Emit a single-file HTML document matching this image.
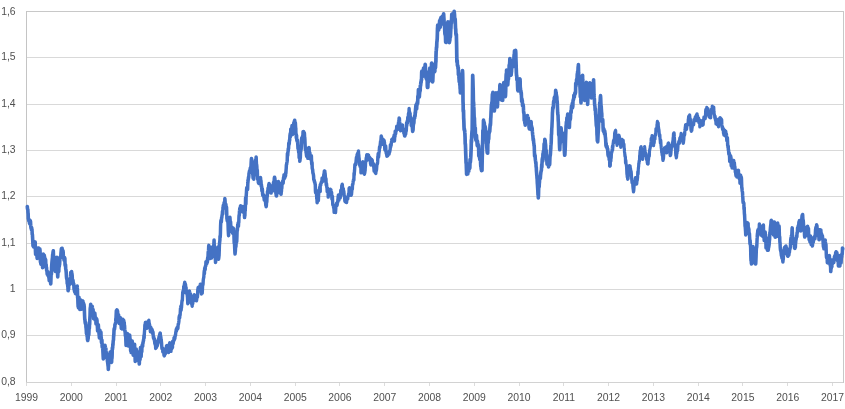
<!DOCTYPE html><html><head><meta charset="utf-8"><title>Chart</title><style>html,body{margin:0;padding:0;background:#fff;overflow:hidden}body{width:845px;height:409px;position:relative}</style></head><body><svg width="845" height="409" viewBox="0 0 845 409" style="position:absolute;left:0;top:0">
<defs><filter id="nf" x="0" y="0" width="100%" height="100%" filterUnits="userSpaceOnUse"><feOffset dx="0" dy="0"/></filter></defs>
<rect width="845" height="409" fill="#fff"/>
<g shape-rendering="crispEdges">
<rect x="27" y="57" width="816" height="1" fill="#d9d9d9"/>
<rect x="27" y="104" width="816" height="1" fill="#d9d9d9"/>
<rect x="27" y="150" width="816" height="1" fill="#d9d9d9"/>
<rect x="27" y="196" width="816" height="1" fill="#d9d9d9"/>
<rect x="27" y="243" width="816" height="1" fill="#d9d9d9"/>
<rect x="27" y="289" width="816" height="1" fill="#d9d9d9"/>
<rect x="27" y="335" width="816" height="1" fill="#d9d9d9"/>
<rect x="26" y="382" width="818" height="1" fill="#d2d2d2"/>
<rect x="26" y="11" width="818" height="1" fill="#c8c8c8"/>
<rect x="843" y="11" width="1" height="372" fill="#c8c8c8"/>
<rect x="26" y="11" width="1" height="371" fill="#c4c4c4"/>
<rect x="26" y="383" width="1" height="3" fill="#dcdcdc"/>
<rect x="71" y="383" width="1" height="3" fill="#dcdcdc"/>
<rect x="116" y="383" width="1" height="3" fill="#dcdcdc"/>
<rect x="160" y="383" width="1" height="3" fill="#dcdcdc"/>
<rect x="205" y="383" width="1" height="3" fill="#dcdcdc"/>
<rect x="250" y="383" width="1" height="3" fill="#dcdcdc"/>
<rect x="295" y="383" width="1" height="3" fill="#dcdcdc"/>
<rect x="339" y="383" width="1" height="3" fill="#dcdcdc"/>
<rect x="384" y="383" width="1" height="3" fill="#dcdcdc"/>
<rect x="429" y="383" width="1" height="3" fill="#dcdcdc"/>
<rect x="474" y="383" width="1" height="3" fill="#dcdcdc"/>
<rect x="519" y="383" width="1" height="3" fill="#dcdcdc"/>
<rect x="563" y="383" width="1" height="3" fill="#dcdcdc"/>
<rect x="608" y="383" width="1" height="3" fill="#dcdcdc"/>
<rect x="653" y="383" width="1" height="3" fill="#dcdcdc"/>
<rect x="698" y="383" width="1" height="3" fill="#dcdcdc"/>
<rect x="742" y="383" width="1" height="3" fill="#dcdcdc"/>
<rect x="787" y="383" width="1" height="3" fill="#dcdcdc"/>
<rect x="832" y="383" width="1" height="3" fill="#dcdcdc"/>
</g>
<g font-family="Liberation Sans, sans-serif" font-size="10.4" fill="#505050" filter="url(#nf)">
<text x="15.6" y="14.80" text-anchor="end">1,6</text>
<text x="15.6" y="59.85" text-anchor="end">1,5</text>
<text x="15.6" y="106.85" text-anchor="end">1,4</text>
<text x="15.6" y="152.85" text-anchor="end">1,3</text>
<text x="15.6" y="198.85" text-anchor="end">1,2</text>
<text x="15.6" y="245.85" text-anchor="end">1,1</text>
<text x="15.6" y="291.85" text-anchor="end">1</text>
<text x="15.6" y="337.85" text-anchor="end">0,9</text>
<text x="15.6" y="384.85" text-anchor="end">0,8</text>
<text x="26.5" y="400.8" text-anchor="middle">1999</text>
<text x="71.3" y="400.8" text-anchor="middle">2000</text>
<text x="116.1" y="400.8" text-anchor="middle">2001</text>
<text x="160.8" y="400.8" text-anchor="middle">2002</text>
<text x="205.6" y="400.8" text-anchor="middle">2003</text>
<text x="250.4" y="400.8" text-anchor="middle">2004</text>
<text x="295.2" y="400.8" text-anchor="middle">2005</text>
<text x="339.9" y="400.8" text-anchor="middle">2006</text>
<text x="384.7" y="400.8" text-anchor="middle">2007</text>
<text x="429.5" y="400.8" text-anchor="middle">2008</text>
<text x="474.3" y="400.8" text-anchor="middle">2009</text>
<text x="519.1" y="400.8" text-anchor="middle">2010</text>
<text x="563.8" y="400.8" text-anchor="middle">2011</text>
<text x="608.6" y="400.8" text-anchor="middle">2012</text>
<text x="653.4" y="400.8" text-anchor="middle">2013</text>
<text x="698.2" y="400.8" text-anchor="middle">2014</text>
<text x="742.9" y="400.8" text-anchor="middle">2015</text>
<text x="787.7" y="400.8" text-anchor="middle">2016</text>
<text x="832.5" y="400.8" text-anchor="middle">2017</text>
</g>
<g fill="none" stroke="#4472c4" stroke-linejoin="round" stroke-linecap="round">
<polyline stroke-width="3.60" points="27.30,206.5 27.47,208.6 27.64,209.4 27.81,209.4 27.98,212.1 28.00,213.0 28.15,213.5 28.32,218.9 28.49,218.9 28.50,219.0 28.66,219.8 28.83,220.9 29.00,221.3 29.17,219.6 29.34,220.9 29.51,223.4 29.68,221.0 29.85,222.2 30.00,224.0 30.02,222.6 30.19,220.6 30.36,221.9 30.53,221.5 30.70,225.2 30.87,227.2 31.04,228.0 31.10,228.6 31.21,226.7 31.38,228.1 31.55,230.0 31.72,227.9 31.89,229.9 32.06,230.9 32.20,234.0 32.23,234.6 32.40,234.5 32.57,237.3 32.60,238.0 32.74,240.3 32.91,243.8 33.00,246.0 33.08,245.9 33.25,243.9 33.42,244.3 33.59,247.0 33.76,242.6 33.93,245.1 34.10,244.7 34.27,242.6 34.44,247.0 34.61,246.2 34.78,242.1 34.95,242.3 35.12,242.6 35.20,242.0 35.29,246.4 35.46,251.1 35.50,252.0 35.63,254.3 35.80,253.1 35.97,253.8 36.14,253.0 36.31,254.0 36.48,251.8 36.65,252.3 36.82,253.7 36.99,256.7 37.16,258.4 37.33,255.8 37.50,257.0 37.50,257.0 37.67,249.9 37.84,248.0 38.00,248.0 38.01,248.3 38.18,249.6 38.35,248.8 38.52,248.2 38.69,248.1 38.86,252.0 39.03,249.8 39.20,249.1 39.37,250.2 39.54,249.9 39.71,249.8 39.88,249.1 40.00,250.5 40.05,250.7 40.22,257.3 40.39,261.4 40.50,262.0 40.56,262.7 40.73,262.4 40.90,264.2 41.07,263.6 41.24,264.5 41.41,261.2 41.58,263.0 41.75,259.6 41.92,258.0 42.09,260.0 42.26,260.3 42.43,262.7 42.60,267.7 42.77,264.7 42.94,264.0 43.11,264.8 43.20,265.0 43.28,256.3 43.30,254.0 43.45,255.3 43.62,256.5 43.79,254.7 43.96,255.7 44.13,256.8 44.30,255.3 44.47,257.8 44.64,257.0 44.81,260.7 44.98,261.1 45.15,261.5 45.32,261.3 45.40,262.0 45.49,259.3 45.66,260.0 45.83,265.5 45.90,267.4 46.00,267.2 46.17,264.6 46.34,268.4 46.51,267.3 46.68,270.5 46.85,270.9 47.00,271.0 47.02,271.3 47.19,274.1 47.36,273.7 47.53,273.0 47.70,273.1 47.87,271.7 48.04,275.6 48.21,274.6 48.38,275.4 48.50,276.0 48.55,275.5 48.72,274.4 48.89,278.0 49.06,278.1 49.23,280.6 49.40,280.3 49.57,278.9 49.74,279.3 49.91,279.3 50.08,280.9 50.25,281.3 50.42,282.0 50.59,281.9 50.70,283.9 50.76,283.6 50.93,279.6 51.10,274.8 51.27,273.8 51.44,274.2 51.61,266.9 51.78,264.7 51.95,262.1 52.00,262.0 52.12,260.4 52.29,259.0 52.46,257.8 52.63,254.7 52.80,255.0 52.97,252.6 53.10,252.2 53.14,251.5 53.31,250.8 53.48,256.1 53.65,256.0 53.82,258.4 53.99,259.5 54.16,260.3 54.30,262.0 54.33,262.4 54.50,263.2 54.67,264.3 54.84,265.8 55.01,269.7 55.18,271.0 55.35,271.3 55.50,271.0 55.52,270.1 55.69,269.5 55.86,269.6 56.03,266.7 56.20,265.8 56.37,265.0 56.54,263.6 56.71,261.7 56.88,257.8 56.90,257.4 57.05,260.2 57.22,266.4 57.39,270.6 57.56,274.3 57.60,273.9 57.73,277.0 57.90,273.6 58.07,269.4 58.24,272.4 58.41,269.9 58.58,270.7 58.75,271.6 58.80,271.0 58.92,267.2 59.09,266.9 59.26,266.5 59.43,265.1 59.60,264.4 59.77,261.5 59.94,258.2 60.11,258.8 60.28,257.4 60.45,256.6 60.50,258.0 60.62,256.8 60.79,256.6 60.96,253.5 61.13,251.8 61.30,249.8 61.47,248.6 61.64,249.8 61.81,248.2 61.98,248.8 62.10,248.3 62.15,250.1 62.32,249.2 62.49,251.9 62.66,252.2 62.83,253.0 63.00,250.7 63.17,252.3 63.34,256.1 63.51,256.8 63.68,258.0 63.85,258.6 64.00,259.8 64.02,260.1 64.19,258.2 64.36,258.8 64.53,257.5 64.70,258.0 64.87,258.6 65.04,264.8 65.21,265.8 65.38,264.4 65.55,265.0 65.72,268.9 65.89,269.4 65.90,269.3 66.06,270.9 66.23,272.6 66.40,276.0 66.57,277.9 66.74,278.8 66.91,278.3 67.00,280.0 67.08,280.0 67.25,283.7 67.42,281.9 67.59,284.1 67.76,286.3 67.93,286.7 68.00,289.0 68.10,290.7 68.27,289.0 68.44,289.6 68.61,289.0 68.78,281.8 68.95,284.3 69.12,284.5 69.29,284.7 69.46,283.0 69.60,284.0 69.63,283.5 69.80,283.9 69.97,283.0 70.14,281.4 70.31,283.1 70.48,279.2 70.65,276.9 70.82,272.3 70.99,276.5 71.16,276.5 71.33,275.5 71.50,273.5 71.60,271.5 71.67,272.6 71.84,273.3 72.01,274.1 72.18,275.6 72.35,280.1 72.52,280.9 72.69,280.5 72.86,280.1 73.03,280.7 73.20,283.0 73.20,283.0 73.37,284.9 73.54,285.0 73.71,283.7 73.88,285.8 74.05,289.3 74.22,289.0 74.39,289.8 74.56,291.0 74.60,291.5 74.73,289.4 74.90,290.0 75.07,289.4 75.24,293.2 75.41,292.0 75.58,293.6 75.60,293.5 75.75,293.4 75.92,291.4 76.09,291.2 76.26,290.4 76.43,287.5 76.60,288.7 76.77,291.9 76.94,288.4 77.11,286.6 77.20,286.0 77.28,287.9 77.45,290.1 77.60,297.0 77.62,297.6 77.79,298.1 77.96,303.4 78.13,306.7 78.20,305.0 78.30,305.8 78.47,307.8 78.64,303.5 78.81,299.6 78.98,297.2 79.00,298.0 79.15,302.1 79.32,305.9 79.49,304.7 79.66,305.9 79.80,309.5 79.83,309.1 80.00,307.1 80.17,306.1 80.34,305.1 80.51,302.5 80.68,301.0 80.80,300.0 80.85,300.5 81.02,303.3 81.19,308.8 81.36,309.2 81.53,308.8 81.60,308.5 81.70,307.6 81.87,303.0 82.04,300.8 82.21,304.4 82.38,305.2 82.55,303.4 82.60,303.0 82.72,301.3 82.89,301.2 83.06,304.5 83.20,305.0 83.23,306.1 83.40,305.2 83.57,303.2 83.74,304.6 83.91,305.4 84.08,304.8 84.20,307.0 84.25,306.4 84.42,311.2 84.59,315.8 84.76,319.6 84.93,319.3 85.10,322.1 85.20,322.8 85.27,323.1 85.44,323.8 85.61,323.1 85.78,322.7 85.95,327.3 86.12,328.3 86.29,330.3 86.46,333.6 86.63,329.9 86.80,330.7 86.97,333.8 87.14,336.3 87.31,336.6 87.48,339.6 87.65,340.1 87.80,340.5 87.82,339.6 87.99,339.1 88.16,338.5 88.33,332.5 88.50,335.7 88.67,334.9 88.84,334.4 89.00,330.4 89.01,330.2 89.18,326.1 89.35,328.5 89.52,324.0 89.69,324.1 89.86,318.0 90.03,315.3 90.20,309.0 90.37,307.4 90.54,307.3 90.70,304.3 90.71,304.6 90.88,306.7 91.05,305.6 91.22,306.5 91.39,307.9 91.56,310.2 91.73,311.6 91.80,313.0 91.90,311.2 92.07,308.6 92.24,306.4 92.41,308.0 92.58,309.3 92.60,309.0 92.75,309.2 92.92,309.5 93.09,309.5 93.26,314.2 93.43,314.3 93.60,318.6 93.77,317.7 93.80,318.0 93.94,317.0 94.11,314.4 94.28,315.4 94.45,313.8 94.60,313.0 94.62,313.3 94.79,313.1 94.96,314.7 95.13,316.7 95.30,320.3 95.47,318.8 95.64,320.6 95.81,319.7 95.98,323.7 96.00,324.0 96.15,318.4 96.32,319.1 96.49,321.5 96.60,320.0 96.66,318.9 96.83,319.6 97.00,320.3 97.17,325.0 97.34,326.0 97.51,328.4 97.60,331.0 97.68,329.6 97.85,329.8 98.02,326.8 98.19,324.8 98.36,324.8 98.40,327.0 98.53,328.2 98.70,330.4 98.87,331.9 99.04,333.8 99.21,335.4 99.38,338.0 99.40,337.0 99.55,333.9 99.72,332.1 99.89,330.2 100.06,333.6 100.23,334.7 100.40,333.0 100.40,333.0 100.57,332.6 100.74,337.4 100.91,332.0 101.08,337.2 101.25,337.3 101.42,342.0 101.59,342.6 101.60,343.0 101.76,340.3 101.93,340.1 102.10,345.8 102.27,347.2 102.40,346.0 102.44,345.8 102.61,344.8 102.78,348.2 102.95,352.2 103.12,355.6 103.29,358.7 103.30,359.0 103.46,356.4 103.63,355.2 103.80,356.9 103.97,357.9 104.14,353.1 104.30,350.0 104.31,349.9 104.48,348.3 104.65,346.7 104.82,347.1 104.99,345.2 105.16,347.3 105.30,347.0 105.33,347.4 105.50,348.5 105.67,348.4 105.84,348.5 106.01,350.9 106.18,352.5 106.35,355.3 106.40,356.0 106.52,354.6 106.69,356.2 106.86,354.7 107.03,356.1 107.20,358.2 107.37,359.0 107.40,361.0 107.54,361.6 107.71,363.1 107.88,364.2 108.05,365.8 108.22,367.1 108.30,369.5 108.39,367.3 108.56,366.0 108.73,362.0 108.90,362.2 109.07,361.3 109.24,359.4 109.40,358.0 109.41,358.1 109.58,353.9 109.75,354.7 109.92,354.3 110.09,353.3 110.20,352.0 110.26,352.1 110.43,352.9 110.60,355.7 110.77,357.4 110.94,358.4 111.11,355.9 111.28,359.6 111.45,362.4 111.60,362.0 111.62,362.3 111.79,357.9 111.96,358.3 112.13,355.4 112.30,347.9 112.47,349.4 112.64,346.9 112.70,348.0 112.81,344.0 112.98,345.1 113.15,341.6 113.32,340.1 113.49,340.1 113.60,336.0 113.66,336.6 113.83,334.7 114.00,330.5 114.17,328.6 114.34,329.5 114.51,329.1 114.68,327.5 114.85,326.7 114.90,325.3 115.02,324.2 115.19,324.2 115.36,323.6 115.53,323.7 115.70,321.9 115.87,318.7 116.04,317.9 116.21,314.0 116.38,310.5 116.55,312.4 116.72,311.5 116.89,310.6 116.90,310.5 117.06,309.9 117.23,310.8 117.40,311.5 117.57,311.2 117.74,315.5 117.80,318.0 117.91,318.7 118.08,318.0 118.25,318.7 118.42,321.0 118.59,314.8 118.76,317.8 118.93,320.7 119.10,322.0 119.20,321.6 119.27,323.5 119.44,323.2 119.61,322.4 119.78,322.7 119.95,319.6 120.12,318.9 120.29,319.9 120.46,319.7 120.50,317.8 120.63,319.5 120.80,321.1 120.97,325.1 121.14,324.8 121.31,328.4 121.48,326.0 121.65,327.3 121.70,327.9 121.82,328.1 121.99,328.9 122.16,324.6 122.33,322.8 122.50,324.2 122.67,322.4 122.84,319.4 123.01,323.1 123.18,323.3 123.35,322.9 123.52,320.9 123.69,320.6 123.70,320.3 123.86,323.3 124.03,322.6 124.20,322.5 124.37,325.3 124.54,325.6 124.71,329.4 124.88,331.0 125.05,330.8 125.20,333.0 125.22,332.9 125.39,335.8 125.56,335.7 125.73,336.5 125.90,341.3 126.07,345.4 126.24,345.0 126.30,343.0 126.41,343.6 126.58,344.8 126.75,341.4 126.92,336.9 127.09,336.4 127.26,335.6 127.30,335.0 127.43,333.6 127.60,333.7 127.77,339.6 127.94,340.8 128.11,344.0 128.20,346.0 128.28,345.9 128.45,343.9 128.62,343.6 128.79,340.0 128.96,338.5 129.13,335.9 129.30,338.2 129.47,336.3 129.60,335.0 129.64,335.0 129.81,336.7 129.98,340.6 130.15,338.9 130.32,340.3 130.49,343.8 130.66,350.9 130.80,350.0 130.83,350.3 131.00,350.4 131.17,352.5 131.34,348.8 131.51,345.8 131.68,347.1 131.85,345.4 132.02,344.0 132.19,341.1 132.20,341.0 132.36,347.3 132.53,349.5 132.70,351.6 132.87,347.9 133.04,352.8 133.20,355.0 133.21,355.1 133.38,355.0 133.55,352.5 133.72,347.5 133.89,348.8 134.06,346.6 134.23,346.0 134.40,346.0 134.40,346.0 134.57,344.2 134.74,350.0 134.91,352.9 135.08,357.2 135.25,361.5 135.42,360.5 135.50,360.0 135.59,357.5 135.76,354.3 135.93,353.4 136.10,353.7 136.27,349.1 136.44,351.0 136.60,351.0 136.61,350.8 136.78,351.5 136.95,352.3 137.12,353.9 137.29,354.4 137.46,355.6 137.60,358.0 137.63,356.7 137.80,359.0 137.97,360.3 138.14,356.8 138.20,353.0 138.31,354.5 138.48,358.9 138.65,359.1 138.82,359.9 138.99,360.6 139.16,362.6 139.30,364.0 139.33,363.3 139.50,358.9 139.67,356.4 139.84,359.8 140.01,355.1 140.18,351.1"/>
<polyline stroke-width="3.40" points="139.84,359.8 140.01,355.1 140.18,351.1 140.35,348.8 140.40,347.5 140.52,348.5 140.69,351.4 140.86,356.1 140.90,356.0 141.03,355.6 141.20,356.7 141.37,353.1 141.54,352.0 141.71,349.6 141.88,351.8 142.05,345.7 142.22,344.9 142.39,344.5 142.50,345.0 142.56,345.2 142.73,346.4 142.90,342.1 143.07,343.4 143.24,341.8 143.41,339.8 143.58,340.9 143.75,338.4 143.92,335.4 144.09,336.8 144.20,338.0 144.26,334.6 144.43,332.4 144.60,330.1 144.77,328.0 144.80,326.0 144.94,324.7 145.11,324.0 145.28,323.4 145.45,322.4 145.62,325.3 145.79,324.7 145.96,322.1 146.13,325.9 146.30,326.4 146.47,327.1 146.50,327.0 146.64,327.5 146.81,326.7 146.98,328.3 147.15,327.3 147.32,326.4 147.49,325.6 147.66,321.9 147.83,322.3 147.90,322.7 148.00,322.8 148.17,321.4 148.34,325.1 148.51,325.0 148.68,322.5 148.85,320.3 149.02,322.2 149.19,323.8 149.36,323.6 149.53,325.3 149.70,325.2 149.87,326.8 150.00,327.0 150.04,326.9 150.21,328.4 150.38,331.7 150.55,329.2 150.72,328.5 150.89,327.5 151.06,330.4 151.23,328.2 151.40,328.7 151.57,330.1 151.74,329.2 151.91,329.3 152.08,330.5 152.25,329.8 152.42,331.5 152.50,333.5 152.59,333.2 152.76,333.7 152.93,331.7 153.10,333.0 153.27,336.5 153.44,338.2 153.61,338.1 153.78,336.8 153.95,339.4 154.12,338.8 154.29,338.5 154.46,340.0 154.50,341.0 154.63,341.8 154.80,343.7 154.97,342.5 155.14,344.5 155.31,342.8 155.48,342.9 155.65,348.5 155.82,348.0 155.99,345.4 156.16,345.2 156.33,345.9 156.50,347.4 156.67,346.2 156.70,346.2 156.84,344.4 157.01,344.1 157.18,343.9 157.35,345.9 157.52,344.6 157.69,344.6 157.86,340.4 158.03,341.6 158.20,343.0 158.37,340.2 158.40,339.0 158.54,339.4 158.71,341.4 158.88,337.6 159.05,336.6 159.22,336.9 159.39,337.3 159.56,334.9 159.73,334.7 159.90,333.5 160.00,333.2 160.07,333.5 160.24,333.0 160.41,334.6 160.58,337.9 160.75,336.4 160.92,337.7 161.09,340.6 161.26,339.5 161.43,341.6 161.60,343.0 161.60,343.0 161.77,346.8 161.94,348.5 162.11,347.9 162.28,348.9 162.45,348.5 162.62,348.6 162.79,351.8 162.96,348.3 163.13,351.0 163.30,350.9 163.40,351.0 163.47,352.3 163.64,351.8 163.81,353.2 163.98,355.3 164.15,355.2 164.32,355.9 164.40,355.5 164.49,353.2 164.66,354.1 164.83,354.7 165.00,353.8 165.17,352.9 165.34,354.0 165.51,351.1 165.68,349.0 165.85,348.6 166.02,349.9 166.19,347.8 166.20,348.0 166.36,347.6 166.53,345.6 166.70,349.1 166.87,348.2 167.04,345.4 167.21,346.2 167.38,347.7 167.40,347.5 167.55,348.5 167.72,349.8 167.89,351.5 168.06,349.9 168.23,351.5 168.40,351.8 168.57,352.1 168.60,352.5 168.74,350.9 168.91,349.5 169.08,347.0 169.25,345.3 169.42,346.6 169.59,344.5 169.70,342.8 169.76,344.3 169.93,345.5 170.10,348.3 170.27,345.9 170.44,347.4 170.61,346.1 170.78,350.1 170.95,351.4 171.12,346.2 171.29,346.1 171.46,348.3 171.50,348.4 171.63,349.0 171.80,348.1 171.97,348.0 172.14,348.1 172.31,346.5 172.48,347.6 172.65,341.3 172.82,343.7 172.99,341.3 173.16,343.7 173.33,342.3 173.50,340.5 173.67,341.2 173.84,340.1 173.90,340.5 174.01,337.9 174.18,337.6 174.35,338.4 174.52,339.6 174.69,337.7 174.86,338.7 175.03,336.7 175.20,335.1 175.37,335.2 175.54,335.4 175.71,332.9 175.88,331.7 175.90,331.6 176.05,331.2 176.22,329.3 176.39,331.3 176.56,329.5 176.73,330.1 176.90,327.6 177.07,328.4 177.24,328.6 177.41,327.1 177.58,328.9 177.70,326.6 177.75,327.9 177.92,328.4 178.09,325.6 178.26,323.8 178.43,324.1 178.60,323.1 178.77,322.2 178.94,320.7 179.11,316.9 179.28,317.7 179.45,315.5 179.62,317.3 179.70,317.8 179.79,316.1 179.96,315.1 180.13,315.1 180.30,311.5 180.47,308.5 180.64,307.8 180.81,306.6 180.98,306.0 181.15,310.2 181.32,307.6 181.49,307.8 181.50,307.7 181.66,305.2 181.83,302.7 182.00,300.8 182.17,300.1 182.34,300.8 182.51,296.7 182.68,293.2 182.70,292.6 182.85,292.3 183.02,291.1 183.19,291.9 183.36,290.5 183.53,292.9 183.70,286.5 183.87,286.2 184.04,288.1 184.21,286.2 184.38,284.2 184.55,283.9 184.72,282.1 184.89,283.0 185.00,283.2 185.06,285.0 185.23,284.5 185.40,284.0 185.57,284.9 185.74,288.5 185.91,287.3 186.08,287.4 186.25,291.1 186.42,293.2 186.59,292.4 186.76,291.8 186.93,292.6 187.00,294.5 187.10,292.1 187.27,295.7 187.44,296.9 187.61,300.7 187.78,303.7 187.80,302.7 187.95,301.8 188.12,302.3 188.29,302.9 188.46,299.4 188.63,296.6 188.80,296.5 188.97,293.0 189.14,296.9 189.31,291.4 189.48,291.0 189.65,291.9 189.80,292.6 189.82,292.6 189.99,294.0 190.16,294.6 190.33,297.9 190.50,293.8 190.67,296.4 190.84,296.9 191.01,299.4 191.18,301.3 191.35,301.1 191.52,302.5 191.60,303.9 191.69,303.9 191.86,302.1 192.03,305.2 192.20,306.2 192.37,300.8 192.54,300.5 192.71,303.9 192.88,302.0 193.05,299.3 193.22,297.1 193.30,296.4 193.39,296.3 193.56,295.9 193.73,297.4 193.90,296.8 194.07,296.4 194.24,294.8 194.41,296.2 194.58,295.3 194.75,296.4 194.92,299.5 195.09,299.8 195.26,300.3 195.43,300.4 195.60,299.9 195.77,299.4 195.94,299.0 196.11,300.5 196.28,298.9 196.45,300.8 196.60,300.2 196.62,299.9 196.79,298.5 196.96,296.9 197.13,296.9 197.30,295.0 197.47,297.1 197.64,294.1 197.81,289.1 197.98,289.3 198.15,287.4 198.32,288.7 198.49,291.2 198.66,291.0 198.83,287.8 199.00,287.1 199.10,287.6 199.17,288.3 199.34,287.7 199.51,288.9 199.68,291.1 199.85,290.2 200.02,287.3 200.19,284.9 200.20,284.4 200.36,285.1 200.53,284.2 200.70,285.8 200.87,285.1 201.04,286.8 201.21,288.4 201.38,294.0 201.55,290.8 201.72,291.1 201.89,291.6 202.06,293.0 202.20,293.2 202.23,293.0 202.40,290.1 202.57,286.0 202.74,284.0 202.91,285.0 203.08,283.7 203.25,280.2 203.42,278.9 203.59,278.1 203.76,277.4 203.90,275.6 203.93,275.2 204.10,272.3 204.27,270.6 204.44,273.8 204.61,268.5 204.78,268.7 204.95,269.4 205.12,268.2"/>
<polyline stroke-width="3.50" points="204.95,269.4 205.12,268.2 205.29,266.3 205.46,266.5 205.63,266.2 205.80,265.6 205.97,261.7 206.14,262.7 206.31,262.2 206.40,263.0 206.48,262.2 206.65,262.8 206.82,263.7 206.99,260.7 207.16,262.0 207.33,262.3 207.50,260.9 207.60,258.0 207.67,258.8 207.84,256.9 208.01,257.3 208.18,251.8 208.35,252.1 208.40,252.0 208.52,250.4 208.69,246.2 208.86,245.4 209.03,247.1 209.20,249.0 209.30,248.0 209.37,249.5 209.54,250.9 209.71,250.9 209.88,254.6 210.00,256.0 210.05,256.2 210.22,258.5 210.39,255.3 210.56,249.6 210.73,248.7 210.80,250.0 210.90,247.5 211.07,253.1 211.24,255.1 211.41,253.4 211.58,257.8 211.60,258.0 211.75,256.4 211.92,252.4 212.09,249.9 212.26,248.9 212.40,247.0 212.43,248.5 212.60,252.2 212.77,254.3 212.94,255.7 213.11,254.2 213.20,252.0 213.28,250.4 213.45,248.9 213.62,245.6 213.79,245.8 213.96,241.9 214.10,240.0 214.13,241.6 214.30,247.0 214.47,250.3 214.64,254.9 214.80,256.0 214.81,256.8 214.98,253.9 215.15,255.5 215.32,258.3 215.49,261.5 215.50,262.5 215.66,261.4 215.83,256.5 216.00,251.1 216.17,251.9 216.20,250.0 216.34,249.5 216.51,252.4 216.68,255.4 216.85,255.5 217.00,258.0 217.02,257.6 217.19,253.3 217.36,252.3 217.53,252.0 217.70,247.9 217.80,247.0 217.87,248.0 218.04,256.0 218.21,254.8 218.38,259.3 218.55,259.2 218.60,259.0 218.72,258.3 218.89,256.9 219.06,255.4 219.23,250.4 219.40,245.0 219.40,245.0 219.57,243.0 219.74,241.5 219.91,240.3 220.00,236.0 220.08,237.0 220.25,237.3 220.42,233.2 220.59,225.9 220.76,222.2 220.93,220.3 221.00,222.0 221.10,220.2 221.27,222.2 221.44,221.0 221.60,217.7 221.61,218.3 221.78,217.8 221.95,216.0 222.12,215.0 222.29,214.1 222.46,211.6 222.63,211.0 222.80,213.9 222.97,207.2 223.14,207.9 223.31,205.2 223.48,205.7 223.65,206.5 223.82,204.7 223.99,204.1 224.10,202.6 224.16,203.1 224.33,202.5 224.50,204.2 224.67,204.5 224.84,198.6 225.01,199.8 225.18,202.8 225.35,207.6 225.52,207.1 225.69,206.9 225.86,204.2 226.03,206.9 226.10,206.3 226.20,208.4 226.37,209.2 226.54,207.1 226.71,211.8 226.88,218.7 227.05,219.2 227.22,220.9 227.39,220.7 227.56,218.3 227.73,221.7 227.90,221.4 227.90,221.4 228.07,224.9 228.24,230.3 228.41,233.5 228.58,235.7 228.60,235.5 228.75,231.3 228.92,230.4 229.09,227.4 229.26,223.9 229.43,222.1 229.60,224.0 229.60,224.0 229.77,218.7 229.94,217.3 230.11,219.8 230.28,221.9 230.40,222.0 230.45,221.8 230.62,221.9 230.79,226.1 230.96,226.5 231.13,227.2 231.30,231.4 231.40,230.0 231.47,229.1 231.64,227.1 231.81,229.9 231.98,231.7 232.15,229.4 232.32,230.5 232.40,232.8 232.49,233.1 232.66,231.3 232.83,232.7 233.00,233.1 233.17,228.1 233.34,229.3 233.40,230.3 233.51,230.8 233.68,228.7 233.85,232.5 234.02,238.2 234.19,243.3 234.36,241.2 234.40,243.0 234.53,244.3 234.70,248.6 234.87,252.5 235.04,254.1 235.20,252.6 235.21,252.2 235.38,250.9 235.55,246.9 235.72,240.1 235.89,247.0 236.06,244.1 236.20,240.0 236.23,240.0 236.40,241.2 236.57,242.2 236.74,241.5 236.91,237.4 237.08,231.8 237.25,230.8 237.40,230.3 237.42,229.1 237.59,227.0 237.76,224.5 237.93,223.9 238.10,223.0 238.27,226.5 238.44,226.2 238.61,222.3 238.78,222.5 238.95,217.2 239.12,214.9 239.29,215.6 239.46,211.1 239.63,210.2 239.80,208.2 239.90,208.9 239.97,210.5 240.14,208.0 240.31,208.2 240.48,205.9 240.60,207.0 240.65,205.7 240.82,207.8 240.99,211.7 241.16,211.0 241.33,208.1 241.50,209.7 241.67,208.2 241.84,210.2 242.01,210.0 242.18,210.0 242.35,210.7 242.52,208.7 242.69,208.3 242.86,206.6 243.03,208.3 243.10,209.5 243.20,208.6 243.37,208.0 243.54,210.1 243.71,212.6 243.88,210.0 244.05,210.6 244.22,211.3 244.39,215.4 244.56,217.6 244.60,216.5 244.73,215.4 244.90,215.6 245.07,209.0 245.24,210.8 245.41,205.8 245.58,197.8 245.75,204.3 245.92,203.9 246.09,197.2 246.26,195.2 246.40,193.1 246.43,192.9 246.60,189.4 246.77,187.6 246.94,188.6 247.11,188.1 247.28,189.5 247.45,186.9 247.62,189.4 247.79,183.9 247.96,182.3 248.10,180.5 248.13,179.2 248.30,179.8 248.47,177.1 248.64,177.9 248.81,176.7 248.98,173.4 249.15,172.8 249.32,171.8 249.49,170.9 249.66,172.7 249.83,172.6 250.00,170.0 250.17,168.8 250.20,169.2 250.34,167.7 250.51,168.5 250.68,171.0 250.85,169.3 251.02,164.8 251.19,161.6 251.36,158.9 251.40,159.1 251.53,158.4 251.70,159.9 251.87,161.6 252.04,165.9 252.21,166.4 252.38,167.9 252.55,167.2 252.72,174.0 252.89,175.4 253.06,178.2 253.20,176.7 253.23,178.1 253.40,177.1 253.57,177.0 253.74,179.2 253.91,173.5 254.08,174.7 254.25,175.7 254.42,172.5 254.59,170.5 254.70,167.9 254.76,167.8 254.93,167.4 255.10,164.0 255.27,161.8 255.44,160.3 255.61,160.2 255.78,160.2 255.95,160.1 256.12,157.0 256.20,157.8 256.29,161.1 256.46,164.3 256.63,164.6 256.80,166.2 256.97,169.6 257.14,172.1 257.31,170.0 257.48,175.2 257.65,179.5 257.70,178.0 257.82,179.1 257.99,179.9 258.16,179.4 258.33,182.6 258.50,178.5 258.67,179.7 258.84,183.6 259.01,181.7 259.18,180.5 259.35,181.2 259.52,180.9 259.69,182.2 259.70,181.8 259.86,183.2 260.03,180.9 260.20,183.3 260.37,183.2 260.54,177.6 260.71,180.8 260.88,180.3 261.05,181.9 261.22,186.5 261.39,184.5 261.50,185.5 261.56,186.4 261.73,187.4 261.90,190.9 262.07,191.0 262.24,188.6 262.41,189.6 262.58,193.6 262.75,195.3 262.92,194.3 263.09,194.4 263.26,194.5 263.43,194.8 263.50,195.6 263.60,196.7 263.77,195.5 263.94,195.6 264.11,198.4 264.28,200.1 264.45,199.6 264.62,198.3 264.79,199.6 264.96,196.5 265.13,196.3 265.30,201.3 265.47,201.3 265.64,203.2 265.81,205.3 265.98,204.9 266.00,204.4 266.15,206.7 266.32,205.9 266.49,202.6 266.66,202.6 266.83,201.4 267.00,197.2 267.17,196.8 267.34,195.5 267.51,191.3 267.68,192.4 267.80,193.1 267.85,192.0 268.02,188.3 268.19,187.9 268.36,188.1 268.53,188.2 268.70,184.8 268.87,186.8 269.04,183.6 269.21,183.9 269.30,184.3 269.38,184.4 269.55,184.5 269.72,187.9 269.89,187.2 270.06,187.3 270.23,189.0 270.40,192.2 270.57,186.9 270.74,188.2 270.91,189.5 271.08,192.0 271.10,193.1 271.25,190.1 271.42,190.8 271.59,188.7 271.76,189.6 271.93,190.4 272.10,187.9 272.27,188.3 272.44,191.1 272.61,189.1 272.78,186.8 272.80,186.8 272.95,184.9 273.12,185.0 273.29,186.2 273.46,182.9 273.63,182.1 273.80,184.5 273.97,181.5 274.14,181.3 274.31,178.2 274.48,177.2 274.65,177.2 274.80,178.0 274.82,178.4 274.99,179.4 275.16,180.2 275.33,182.1 275.50,185.7 275.67,187.4 275.84,193.4 276.01,192.8 276.18,195.7 276.35,195.3 276.52,196.0 276.60,195.6 276.69,194.4 276.86,193.1 277.03,191.5 277.20,185.8 277.37,189.0 277.54,187.1 277.71,185.5 277.88,184.5 278.05,183.5 278.22,183.4 278.39,181.5 278.40,181.8 278.56,182.0 278.73,183.2 278.90,183.3 279.07,183.3 279.24,183.0 279.41,185.0 279.58,189.2 279.75,186.6 279.92,191.6 280.09,192.9 280.26,191.0 280.43,193.0 280.60,190.2 280.77,189.4 280.94,190.9 281.10,194.3 281.11,193.8 281.28,191.7 281.45,191.3 281.62,186.1 281.79,188.4 281.96,184.8 282.13,184.3 282.30,184.2 282.47,182.2 282.64,181.0 282.81,181.4 282.90,183.0 282.98,182.8 283.15,183.2 283.32,180.1 283.49,178.4 283.66,177.0 283.83,179.2 284.00,174.8 284.17,179.0 284.34,177.8 284.40,178.0 284.51,177.2 284.68,177.8 284.85,176.8 285.02,177.3 285.19,175.1 285.36,176.0 285.53,176.0 285.70,172.3 285.87,173.4 286.04,170.4 286.21,168.3 286.38,165.1 286.55,164.3 286.70,164.1 286.72,163.4 286.89,162.6 287.06,161.8 287.23,160.6 287.40,153.5 287.57,154.1 287.74,155.4 287.91,152.2 288.08,151.8 288.25,148.7 288.30,150.3 288.42,148.1 288.59,148.8 288.76,143.0 288.93,145.0 289.10,143.3 289.27,143.9 289.44,140.4 289.60,140.0 289.61,140.9 289.78,138.6 289.95,135.4 290.12,134.3 290.29,133.3 290.30,134.0 290.46,136.6 290.63,133.6 290.80,128.9 290.97,132.8 291.14,134.3 291.31,133.7 291.48,132.9 291.60,130.0 291.65,129.9 291.82,127.6 291.99,125.6 292.16,130.3 292.33,129.0 292.50,134.6 292.67,132.4 292.80,131.0 292.84,131.4 293.01,133.6 293.18,131.3 293.35,125.3 293.52,124.9 293.60,124.0 293.69,124.1 293.86,122.4 294.03,124.9 294.20,124.3 294.37,120.9 294.54,120.9 294.71,120.2 294.88,121.8 295.00,122.0 295.05,123.7 295.22,126.3 295.39,122.8 295.56,126.1 295.73,128.6 295.80,128.0 295.90,132.8 296.07,133.8 296.24,135.5 296.30,138.0 296.41,137.7 296.58,135.3 296.75,140.2 296.92,139.9 297.09,141.2 297.26,139.8 297.43,140.1 297.60,141.6 297.77,144.7 297.94,147.8 298.00,148.5 298.11,148.6 298.28,147.8 298.45,147.7 298.62,151.7 298.79,152.7 298.96,150.4 299.13,157.6 299.30,155.4 299.47,157.3 299.64,158.6 299.81,161.3 299.98,160.3 300.00,160.3 300.15,157.9 300.32,158.0 300.49,152.7 300.66,149.8 300.83,151.3 301.00,146.0 301.00,146.0 301.17,149.4 301.34,145.9 301.51,140.1 301.60,139.0 301.68,137.9 301.85,140.0 302.02,141.8 302.19,138.5 302.36,136.6 302.53,137.3 302.70,137.1 302.80,137.0 302.87,136.7 303.04,131.8 303.21,131.7 303.38,131.5 303.55,131.6 303.72,132.3 303.80,132.0 303.89,132.6 304.06,133.5 304.23,133.5 304.40,133.0 304.57,136.0 304.60,138.0 304.74,137.3 304.91,139.7 305.08,144.4 305.25,147.5 305.42,150.0 305.59,148.0 305.60,147.7 305.76,149.3 305.93,150.3 306.10,152.9 306.27,152.3 306.44,155.0 306.61,156.0 306.78,156.5 306.95,156.5 307.12,156.5 307.29,156.5 307.46,156.7 307.60,156.6 307.63,156.5 307.80,158.3 307.97,155.5 308.14,155.7 308.31,152.5 308.48,150.0 308.65,150.6 308.70,148.2 308.82,147.7 308.99,147.5 309.16,148.4 309.33,154.7 309.50,154.2 309.67,155.9 309.84,152.6 310.01,154.5 310.18,156.3 310.35,159.0 310.52,156.6 310.60,156.6 310.69,157.8 310.86,157.2 311.03,158.6 311.20,159.4 311.37,155.7 311.54,161.0 311.71,164.1 311.88,163.9 312.05,162.6 312.22,168.1 312.39,168.8 312.56,169.8 312.60,169.2 312.73,170.7 312.90,173.2 313.07,173.1 313.24,173.9 313.41,174.8 313.58,176.0 313.75,179.7 313.92,179.8 314.09,180.0 314.26,180.6 314.40,181.8 314.43,181.5 314.60,181.5 314.77,182.8 314.94,182.8 315.11,184.3 315.28,184.3 315.45,190.8 315.62,192.6 315.79,191.7 315.96,190.8 316.10,190.6 316.13,191.8 316.30,192.9 316.47,194.2 316.64,195.4 316.81,199.0 316.98,198.1 317.15,202.7 317.32,199.0 317.49,200.7 317.66,199.9 317.70,200.6 317.83,200.4 318.00,199.1 318.17,199.9 318.34,200.8 318.51,195.3 318.68,193.8 318.85,190.3 319.02,191.5 319.19,191.2 319.36,190.4 319.40,190.6 319.53,189.1 319.70,187.4 319.87,188.6 320.04,191.3"/>
<polyline stroke-width="3.40" points="319.87,188.6 320.04,191.3 320.21,184.7 320.38,185.1 320.55,184.4 320.72,185.5 320.89,183.1 321.06,183.2 321.23,182.3 321.30,183.0 321.40,182.9 321.57,182.2 321.74,182.6 321.91,181.5 322.08,178.0 322.25,180.5 322.42,180.9 322.59,180.0 322.76,181.1 322.93,180.7 323.00,179.2 323.10,178.1 323.27,179.9 323.44,181.1 323.61,177.7 323.78,174.7 323.95,173.9 324.12,173.5 324.29,171.0 324.46,172.8 324.63,171.2 324.80,171.0 324.97,172.9 325.00,172.9 325.14,173.5 325.31,175.8 325.48,178.3 325.65,178.1 325.82,179.3 325.99,178.8 326.16,184.4 326.33,185.5 326.50,183.5 326.67,185.2 326.84,187.5 327.00,188.0 327.01,188.7 327.18,191.6 327.35,190.3 327.52,190.3 327.69,188.2 327.86,190.4 328.03,191.6 328.20,197.1 328.37,195.3 328.54,191.4 328.71,192.8 328.80,194.3 328.88,193.1 329.05,192.1 329.22,192.1 329.39,193.3 329.56,193.0 329.73,191.3 329.90,193.7 330.07,192.2 330.24,191.5 330.41,189.3 330.58,189.5 330.75,192.1 330.92,189.7 331.09,191.0 331.26,192.0 331.30,191.8 331.43,192.8 331.60,192.3 331.77,196.5 331.94,199.2 332.11,199.4 332.28,196.1 332.45,196.6 332.62,201.3 332.79,204.9 332.96,204.7 333.10,204.4 333.13,204.7 333.30,205.4 333.47,206.2 333.64,207.9 333.81,205.3 333.98,209.4 334.15,212.4 334.32,209.9 334.49,209.8 334.60,212.0 334.66,211.2 334.83,207.8 335.00,209.6 335.17,209.7 335.34,208.3 335.51,212.5 335.68,210.3 335.85,207.2 336.02,207.0 336.19,205.1 336.36,205.1 336.40,205.7 336.53,204.3 336.70,202.9 336.87,205.6 337.04,205.3 337.21,204.6 337.38,203.2 337.55,201.9 337.72,202.3 337.89,199.3 338.06,198.5 338.10,196.9 338.23,196.8 338.40,195.0 338.57,195.4 338.74,197.2 338.91,200.2 339.08,197.6 339.25,197.6 339.42,197.0 339.59,196.1 339.76,195.1 339.93,196.9 340.10,196.2 340.20,198.1 340.27,197.3 340.44,195.3 340.61,192.9 340.78,190.2 340.95,194.5 341.12,189.9 341.29,192.8 341.46,191.6 341.63,188.6 341.80,185.4 341.97,186.6 342.14,186.1 342.20,184.3 342.31,184.6 342.48,187.1 342.65,188.0 342.82,192.2 342.99,189.7 343.16,191.0 343.33,188.6 343.50,193.9 343.67,192.1 343.84,191.2 343.90,193.1 344.01,192.9 344.18,196.5 344.35,195.8 344.52,196.2 344.69,198.0 344.86,201.2 345.03,199.9 345.20,201.7 345.37,201.8 345.54,200.8 345.71,201.4 345.88,201.9 345.90,201.9 346.05,202.3 346.22,199.6 346.39,201.7 346.56,202.5 346.73,200.7 346.90,198.2 347.07,197.7 347.24,198.7 347.41,199.4 347.58,198.6 347.75,199.0 347.92,196.5 348.09,196.2 348.20,195.6 348.26,195.4 348.43,195.1 348.60,193.8 348.77,195.6 348.94,195.6 349.11,188.3 349.28,190.0 349.45,187.8 349.62,191.3 349.79,194.7 349.96,191.0 350.13,189.9 350.20,189.3 350.30,190.0 350.47,191.7 350.64,194.2 350.81,191.4 350.98,195.3 351.15,192.6 351.32,193.9 351.49,194.7 351.50,194.3 351.66,192.7 351.83,190.3 352.00,188.6 352.17,187.9 352.34,189.3 352.51,184.4 352.68,184.8 352.85,184.4 353.02,183.0 353.19,180.9 353.20,180.5 353.36,180.9 353.53,180.5 353.70,179.2 353.87,180.3 354.04,173.1 354.21,175.2 354.38,172.4 354.55,170.5 354.72,167.7 354.89,164.5 355.06,165.1 355.23,164.8 355.30,165.4 355.40,163.8 355.57,165.0 355.74,164.4 355.91,162.9 356.08,160.9 356.25,159.3 356.42,157.4 356.59,157.2 356.76,157.9 356.93,157.5 357.10,154.5 357.27,155.0 357.44,153.8 357.61,154.7 357.78,157.4 357.95,156.1 358.12,153.9 358.29,152.5 358.30,152.8 358.46,151.0 358.63,154.5 358.80,154.9 358.97,157.5 359.14,158.1 359.31,160.6 359.48,164.8 359.65,164.1 359.80,165.4 359.82,165.0 359.99,166.4 360.16,165.0 360.33,164.0 360.50,163.1 360.67,162.8 360.84,166.7 361.01,172.9 361.18,169.4 361.35,171.1 361.52,170.8 361.60,170.4 361.69,169.1 361.86,167.6 362.03,165.4 362.20,168.9 362.37,162.5 362.54,163.2 362.71,162.5 362.80,161.6 362.88,162.0 363.05,164.1 363.22,164.9 363.39,166.2 363.56,167.9 363.73,163.8 363.90,169.3 364.07,173.7 364.24,173.9 364.41,174.2 364.58,171.2 364.75,172.4 364.80,172.9 364.92,170.7 365.09,170.9 365.26,167.7 365.43,166.4 365.60,161.4 365.77,161.7 365.94,161.6 366.11,159.3 366.28,157.6 366.45,159.4 366.60,156.6 366.62,156.1 366.79,154.7 366.96,157.1 367.13,160.4 367.30,159.0 367.47,156.1 367.64,155.1 367.81,157.5 367.98,154.8 368.15,157.6 368.32,158.3 368.49,156.4 368.60,155.3 368.66,156.5 368.83,159.1 369.00,156.8 369.17,159.6 369.34,158.3 369.51,157.2 369.68,158.6 369.85,159.1 370.02,158.4 370.19,158.0 370.36,160.3 370.40,161.6 370.53,163.6 370.70,164.0 370.87,165.1 371.04,162.8 371.21,162.4 371.38,162.8 371.55,160.4 371.72,159.4 371.89,161.1 372.06,161.3 372.23,160.1 372.40,162.2 372.57,162.2 372.74,163.6 372.90,162.9 372.91,162.9 373.08,163.7 373.25,164.1 373.42,163.8 373.59,164.3 373.76,167.0 373.93,168.7 374.10,171.1 374.27,166.7 374.44,167.5 374.61,168.2 374.78,170.0 374.95,170.2 375.12,170.8 375.29,172.8 375.40,172.9 375.46,172.0 375.63,173.0 375.80,173.4 375.97,170.6 376.14,171.4 376.31,168.3 376.48,170.1 376.65,167.9 376.82,165.4 376.99,164.8 377.16,163.7 377.33,164.1 377.40,164.1 377.50,163.4 377.67,161.4 377.84,156.6 378.01,156.2 378.18,153.5 378.35,155.1 378.52,157.3 378.69,156.1 378.86,153.7 379.03,152.4 379.20,151.5 379.20,151.5 379.37,149.2 379.54,146.8 379.71,148.5 379.88,146.8 380.05,147.2 380.22,144.4 380.39,142.9 380.56,141.1 380.73,140.7 380.90,140.2 381.07,138.1 381.20,136.4 381.24,136.0 381.41,138.2 381.58,137.7 381.75,137.4 381.92,140.6 382.09,141.9 382.26,141.6 382.43,139.7 382.60,144.4 382.77,142.9 382.94,142.6 383.11,141.3 383.28,139.5 383.45,140.2 383.50,141.4 383.62,142.1 383.79,142.6 383.96,141.4 384.13,140.5 384.30,142.7 384.47,142.2 384.64,146.9 384.81,149.5 384.98,150.1 385.00,149.0 385.15,150.0 385.32,148.9 385.49,145.9 385.66,146.0 385.83,148.0 386.00,151.5 386.17,152.8 386.34,153.6 386.51,153.4 386.68,154.3 386.85,156.2 387.02,152.9 387.19,152.7 387.36,152.2 387.50,154.0 387.53,154.9 387.70,155.9 387.87,153.1 388.04,153.6 388.21,153.0 388.38,153.3 388.55,152.9 388.72,154.0 388.89,152.8 389.06,154.0 389.23,153.3 389.30,152.8 389.40,152.3 389.57,150.9 389.74,151.8 389.91,150.1 390.08,150.0 390.25,148.1 390.42,144.6 390.59,147.3 390.76,144.6 390.93,145.9 391.10,145.5 391.27,143.4 391.30,144.0 391.44,142.3 391.61,141.0 391.78,139.4 391.95,141.7 392.12,141.0 392.29,141.6 392.46,140.0 392.63,140.5 392.80,138.4 392.97,138.6 393.14,139.3 393.31,138.5 393.48,137.6 393.50,137.7 393.65,137.0 393.82,137.3 393.99,136.5 394.16,134.9 394.33,136.4 394.50,141.0 394.67,137.5 394.84,136.9 395.01,136.4 395.18,131.1 395.35,133.1 395.52,133.1 395.60,133.9 395.69,133.6 395.86,131.7 396.03,131.0 396.20,131.1 396.37,129.3 396.54,129.1 396.71,126.3 396.88,126.8 397.05,128.0 397.20,127.0 397.22,127.8 397.39,127.8 397.56,128.6 397.73,128.6 397.90,129.3 398.07,128.1 398.24,124.7 398.41,123.2 398.58,121.7 398.60,121.3 398.75,122.3 398.92,121.2 399.09,118.0 399.26,119.3 399.43,118.4 399.60,121.4 399.77,123.3 399.94,123.2 400.00,125.0 400.11,126.0 400.28,126.1 400.45,129.3 400.62,130.8 400.79,126.3 400.96,127.7 401.10,126.3 401.13,126.8 401.30,128.4 401.47,127.0 401.64,126.2 401.81,125.4 401.98,125.3 402.15,126.7 402.32,124.9 402.49,125.2 402.66,128.5 402.83,129.1 403.00,130.0 403.10,130.0 403.17,128.9 403.34,128.8 403.51,130.2 403.68,130.2 403.85,133.5 404.02,133.5 404.19,133.9 404.36,134.4 404.53,135.8 404.70,135.5 404.70,135.5 404.87,136.1 405.04,135.2 405.21,134.1 405.38,134.0 405.55,134.5 405.72,133.9 405.89,131.8 406.00,130.0 406.06,130.4 406.23,131.1 406.40,128.9 406.57,122.8 406.74,126.1 406.91,124.6 407.08,121.6 407.20,122.0 407.25,120.8 407.42,123.2 407.59,122.4 407.76,117.3 407.93,118.5 408.10,116.9 408.27,118.8 408.40,116.0 408.44,114.0 408.61,113.3 408.78,112.7 408.95,112.1 409.12,108.5 409.29,111.4 409.40,112.0 409.46,111.1 409.63,114.0 409.80,113.4 409.97,119.2 410.14,118.4"/>
<polyline stroke-width="3.70" points="409.80,113.4 409.97,119.2 410.14,118.4 410.31,117.2 410.40,117.0 410.48,118.9 410.65,118.9 410.82,121.6 410.99,121.0 411.16,118.8 411.33,125.5 411.50,125.0 411.50,125.0 411.67,126.0 411.84,123.7 412.01,123.0 412.18,125.0 412.35,126.7 412.52,129.2 412.69,131.3 412.70,131.0 412.86,130.4 413.03,129.8 413.20,125.1 413.37,124.8 413.54,122.5 413.60,123.0 413.71,123.5 413.88,122.4 414.05,118.3 414.22,118.9 414.39,117.3 414.56,118.4 414.60,118.0 414.73,115.7 414.90,116.3 415.07,115.8 415.24,112.0 415.41,112.8 415.58,109.4 415.70,108.0 415.75,107.8 415.92,106.0 416.09,104.9 416.26,104.6 416.43,107.9 416.60,108.8 416.77,105.2 416.94,105.1 417.00,103.0 417.11,103.4 417.28,103.5 417.45,101.6 417.62,103.3 417.79,99.3 417.90,96.0 417.96,96.7 418.13,95.7 418.30,94.6 418.47,89.5 418.64,93.1 418.81,95.0 418.98,95.7 419.15,96.0 419.32,97.0 419.49,93.8 419.66,92.8 419.70,91.7 419.83,90.4 420.00,91.2 420.17,90.2 420.34,85.5 420.51,86.1 420.68,84.7 420.85,82.2 421.02,82.9 421.19,81.2 421.36,79.5 421.40,80.4 421.53,79.4 421.70,72.3 421.87,71.2 421.90,71.0 422.04,73.1 422.21,71.1 422.38,72.1 422.55,74.2 422.72,76.4 422.80,76.0 422.89,73.3 423.06,74.1 423.23,74.5 423.40,71.9 423.57,68.2 423.60,68.0 423.74,69.5 423.91,72.4 424.08,70.0 424.25,72.4 424.40,74.0 424.42,72.9 424.59,71.0 424.76,69.3 424.93,66.6 425.10,65.8 425.20,64.4 425.27,64.7 425.44,68.6 425.61,72.1 425.78,76.7 425.95,76.5 426.00,78.0 426.12,76.1 426.29,76.1 426.46,79.2 426.63,76.3 426.80,72.0 426.80,72.0 426.97,74.8 427.14,75.6 427.31,86.3 427.48,87.4 427.50,87.0 427.65,86.8 427.82,87.4 427.99,82.8 428.16,80.4 428.30,75.0 428.33,74.0 428.50,77.8 428.67,81.6 428.84,81.5 429.00,80.0 429.01,80.2 429.18,76.6 429.35,77.7 429.52,75.0 429.69,71.4 429.80,68.0 429.86,70.4 430.03,72.8 430.20,75.0 430.37,72.8 430.54,75.7 430.60,76.0 430.71,75.6 430.88,73.2 431.05,73.0 431.22,72.0 431.39,69.6 431.56,63.6 431.70,63.4 431.73,63.0 431.90,64.3 432.07,69.3 432.24,71.7 432.41,76.6 432.58,81.9 432.70,80.3 432.75,81.5 432.92,77.0 433.09,72.8 433.26,68.5 433.43,66.6 433.60,66.0 433.60,66.0 433.77,65.6 433.94,65.4 434.11,65.3 434.28,67.3 434.40,72.0 434.45,71.2 434.62,71.5 434.79,71.3 434.96,67.2 435.13,65.8 435.20,64.0 435.30,66.4 435.47,67.6 435.64,64.5 435.81,61.2 435.90,62.0 435.98,56.4 436.15,51.1 436.30,50.4 436.32,50.2 436.49,47.1 436.66,47.4 436.83,42.2 437.00,41.4 437.17,39.0 437.20,39.0 437.34,34.9 437.51,28.1 437.68,26.7 437.70,25.0 437.85,29.1 438.02,26.6 438.19,29.0 438.36,26.9 438.53,27.5 438.60,30.0 438.70,29.6 438.87,25.7 439.04,27.8 439.21,24.1 439.38,23.6 439.55,22.7 439.60,22.0 439.72,20.5 439.89,26.0 440.06,27.4 440.23,26.6 440.30,27.0 440.40,22.5 440.57,18.5 440.74,20.2 440.91,18.6 441.00,18.5 441.08,17.4 441.25,21.4 441.42,20.7 441.59,20.0 441.76,24.0 441.93,23.8 442.00,23.0 442.10,22.0 442.27,18.3 442.44,16.1 442.61,16.1 442.78,16.3 442.95,17.1 443.12,16.8 443.20,15.8 443.29,17.2 443.46,16.5 443.63,13.9 443.80,17.2 443.97,19.5 444.10,23.4 444.14,22.9 444.31,22.6 444.48,23.8 444.65,28.1 444.82,31.8 444.90,33.4 444.99,34.1 445.16,34.9 445.33,34.1 445.50,36.5 445.67,42.1 445.84,40.3 446.00,41.2 446.01,41.9 446.18,42.4 446.35,36.2 446.52,37.4 446.69,32.2 446.86,27.4 447.00,24.5 447.03,24.8 447.20,24.9 447.37,24.3 447.54,26.9 447.71,24.0 447.88,21.8 448.05,24.4 448.22,25.1 448.39,24.4 448.40,23.8 448.56,28.3 448.73,31.9 448.90,38.1 449.07,36.1 449.24,39.8 449.40,42.6 449.41,41.8 449.58,38.8 449.75,40.8 449.92,38.3 450.09,35.9 450.26,37.3 450.43,36.6 450.50,34.8 450.60,32.8 450.77,29.2 450.94,27.9 451.11,22.1 451.20,20.5 451.28,20.8 451.45,23.1 451.62,19.5 451.79,14.4 451.96,14.1 452.13,14.3 452.30,16.7 452.47,19.0 452.64,18.7 452.70,18.8 452.81,18.0 452.98,15.4 453.15,15.4 453.32,13.8 453.49,19.3 453.66,17.0 453.80,13.5 453.83,13.0 454.00,13.2 454.17,11.4 454.34,13.0 454.51,14.8 454.68,19.1 454.80,19.8 454.85,19.3 455.02,18.6 455.19,19.4 455.36,24.0 455.50,27.7 455.53,28.7 455.70,29.0 455.87,33.7 456.04,34.8 456.21,35.2 456.38,34.5 456.40,36.2 456.55,42.1 456.70,50.0 456.72,52.5 456.89,61.9 456.90,61.0 457.06,61.2 457.23,60.5 457.40,65.1 457.57,66.0 457.74,65.4 457.90,66.0 457.91,66.3 458.08,68.8 458.25,67.6 458.42,74.7 458.59,74.7 458.76,74.7 458.90,75.0 458.93,77.2 459.10,79.2 459.27,81.8 459.44,79.4 459.61,80.8 459.78,82.7 459.80,85.0 459.95,82.2 460.12,88.4 460.29,89.4 460.40,93.0 460.46,91.0 460.63,89.5 460.80,89.2 460.97,91.2 461.14,86.7 461.31,83.7 461.40,80.0 461.48,80.5 461.65,79.1 461.82,75.9 461.99,74.4 462.16,73.0 462.33,72.2 462.50,70.5 462.50,70.5 462.67,73.8 462.84,82.6 462.90,84.0 463.00,100.0 463.01,101.5 463.18,105.2 463.20,110.0 463.35,111.8 463.52,110.4 463.69,119.2 463.70,118.0 463.86,121.3 464.03,127.1 464.20,129.8 464.37,128.9 464.54,130.9 464.71,130.7 464.80,132.7 464.88,133.3 465.05,136.8 465.22,144.1 465.39,144.0 465.56,148.1 465.73,153.6 465.90,157.9 465.90,157.9 466.07,163.2 466.24,162.4 466.41,168.2 466.58,172.8 466.60,174.3 466.75,173.2 466.92,171.5 467.09,174.1 467.26,171.3 467.43,174.0 467.60,172.5 467.77,174.0 467.94,170.5 468.11,168.8 468.28,166.2 468.45,168.9 468.62,170.4 468.79,171.3 468.90,168.0 468.96,169.2 469.13,167.7 469.30,167.3 469.47,165.6 469.64,168.3 469.81,167.8 469.98,162.0 470.15,159.3 470.32,162.4 470.49,160.6 470.66,158.3 470.70,157.9 470.83,155.9 471.00,152.0 471.17,147.8 471.34,139.9 471.51,142.2 471.68,136.2 471.85,133.7 472.02,131.0 472.19,130.4 472.20,130.2 472.36,112.6 472.53,89.5 472.70,75.3 472.70,75.3 472.87,79.0 473.04,85.7 473.21,90.7 473.38,100.8 473.55,103.0 473.60,102.5 473.72,106.4 473.89,109.0 474.06,115.0 474.23,120.0 474.40,117.8 474.57,124.0 474.70,125.2 474.74,127.1 474.91,130.3 475.08,128.3 475.25,127.9 475.42,137.2 475.59,138.3 475.76,136.7 475.90,140.3 475.93,140.1 476.10,137.2 476.27,135.6 476.44,135.3 476.61,138.6 476.78,140.7 476.95,141.5 477.12,143.6 477.29,145.5 477.46,141.2 477.63,143.8 477.70,145.3 477.80,143.6 477.97,144.1 478.14,146.0 478.31,147.3 478.48,145.3 478.65,147.4 478.82,156.0 478.99,152.4 479.16,149.8 479.33,154.1 479.50,157.1 479.67,158.1 479.70,157.9 479.84,159.5 480.01,158.7 480.18,157.4 480.35,158.2 480.52,160.4 480.69,164.3 480.86,166.5 481.03,166.2 481.20,169.1 481.37,168.6 481.54,170.7 481.71,167.4 481.88,167.4 482.00,170.5 482.05,166.2 482.22,158.3 482.39,151.9 482.56,144.6 482.70,140.3 482.73,140.6 482.90,130.3 483.07,130.6 483.24,132.6 483.41,124.5 483.50,120.2 483.58,121.7 483.75,125.7 483.92,121.9 484.09,122.9 484.26,123.0 484.43,125.4 484.60,125.9 484.77,127.7 484.94,126.2 485.11,127.0 485.28,127.2 485.30,127.7 485.45,128.7 485.62,130.8 485.79,130.5 485.96,138.3 486.13,139.0 486.30,136.8 486.47,143.8 486.64,143.3 486.81,147.3 486.98,149.1 487.15,151.5 487.30,152.9 487.32,152.4 487.49,150.4 487.66,153.1 487.83,143.3 488.00,143.0 488.17,143.0 488.34,137.9 488.51,133.8 488.68,139.2 488.85,134.9 489.00,132.7 489.02,133.5 489.19,132.7 489.36,131.8 489.53,131.2 489.70,131.7 489.87,129.2 490.04,126.4 490.21,124.3 490.38,125.3 490.55,123.2 490.72,118.4 490.80,118.0 490.89,116.5 491.06,112.1 491.23,109.1 491.40,105.1 491.57,104.5 491.60,105.0 491.74,105.2 491.91,102.2 492.08,104.9 492.25,98.6 492.40,94.2 492.42,96.5 492.59,100.5 492.76,99.0 492.93,92.4 493.10,97.7 493.27,102.2 493.30,103.0 493.44,103.0 493.61,109.7 493.78,108.4 493.95,110.9 494.12,105.2 494.29,110.4 494.30,111.0 494.46,109.8 494.63,108.0 494.80,102.6 494.97,104.6 495.14,102.9 495.20,101.0 495.31,103.1 495.48,104.3 495.65,101.5 495.82,95.7 495.99,92.8 496.16,97.4 496.30,96.0 496.33,96.8 496.50,97.7 496.67,99.6 496.84,101.4 497.01,102.2 497.18,103.2 497.30,106.0 497.35,107.0 497.52,104.1 497.69,99.3 497.86,97.9 498.03,100.4 498.20,99.0 498.20,99.0 498.37,98.1 498.54,96.0 498.71,92.0 498.88,96.0 499.05,94.5 499.20,92.0 499.22,92.4 499.39,91.5 499.56,92.8 499.73,90.0 499.90,85.3 500.07,84.7 500.20,87.0 500.24,87.4 500.41,88.9 500.58,93.2 500.75,96.3 500.92,96.6 501.09,96.8 501.20,97.0 501.26,97.7 501.43,99.8 501.60,99.4 501.77,100.1 501.94,98.7 502.11,96.0 502.28,96.7 502.40,99.5 502.45,99.3 502.62,100.3 502.79,96.3 502.96,94.5 503.13,91.8 503.20,88.0 503.30,88.0 503.47,86.3 503.64,85.5 503.81,82.5 503.90,83.5 503.98,85.7 504.15,85.9 504.32,92.4 504.49,90.7 504.66,90.9 504.80,92.0 504.83,91.3 505.00,92.3 505.17,92.5 505.34,96.6 505.51,95.2 505.60,93.0 505.68,91.3 505.85,82.5 506.02,78.8 506.19,74.5 506.20,75.0 506.36,73.4 506.53,74.2 506.60,70.0 506.70,73.8 506.87,75.5 507.04,76.8 507.21,79.0 507.38,79.9 507.40,79.0 507.55,79.9 507.72,84.9 507.89,82.3 508.06,80.0 508.23,78.1 508.40,79.0 508.40,79.0 508.57,76.5 508.74,74.1 508.91,75.0 509.08,71.6 509.20,65.0 509.25,66.4 509.42,66.1 509.59,64.1 509.76,61.8 509.90,58.5 509.93,60.5 510.10,64.2 510.27,66.0 510.44,69.8 510.61,71.2 510.78,70.7 510.80,70.0 510.95,75.1 511.12,75.0 511.29,73.1 511.46,71.3 511.50,72.0 511.63,68.1 511.80,67.3 511.97,66.7 512.14,60.7 512.30,63.0 512.31,63.1 512.48,64.1 512.65,62.2 512.82,66.8 512.99,64.7 513.16,64.5 513.20,66.0 513.33,62.9 513.50,63.9 513.67,64.2 513.84,60.7 514.00,57.0 514.01,56.6 514.18,54.5 514.35,54.5 514.52,50.9 514.69,53.1 514.86,55.5 515.03,54.5 515.20,55.3 515.37,52.4 515.54,50.4 515.71,51.5 515.80,53.0 515.88,58.4 516.05,62.6 516.20,67.7 516.22,68.2 516.39,73.1 516.56,75.5 516.73,75.7 516.90,79.9 517.07,79.2 517.24,79.9 517.41,80.6 517.58,86.0 517.75,89.3 517.80,90.4 517.92,89.1 518.09,90.8 518.26,88.1 518.43,85.3 518.60,88.1 518.77,89.6 518.94,87.1 519.11,80.3 519.28,79.5 519.45,81.1 519.62,80.1 519.79,79.6 519.80,79.0 519.96,81.5 520.13,81.9"/>
<polyline stroke-width="3.60" points="519.80,79.0 519.96,81.5 520.13,81.9 520.30,87.5 520.47,88.0 520.64,91.8 520.81,90.8 520.98,90.8 521.10,94.2 521.15,93.3 521.32,92.7 521.49,97.4 521.66,101.4 521.83,101.6 522.00,98.9 522.17,100.4 522.34,100.5 522.51,105.5 522.68,105.8 522.80,105.5 522.85,106.0 523.02,104.3 523.19,105.5 523.36,106.0 523.53,110.4 523.70,112.9 523.87,112.7 524.04,114.4 524.21,120.5 524.38,118.6 524.55,119.1 524.72,121.6 524.80,123.1 524.89,122.0 525.06,122.4 525.23,125.1 525.40,119.5 525.57,119.8 525.74,119.9 525.91,119.5 526.08,118.7 526.25,117.7 526.42,120.3 526.59,117.7 526.76,117.1 526.93,116.8 527.10,116.6 527.27,115.8 527.40,115.6 527.44,116.2 527.61,117.8 527.78,118.7 527.95,117.5 528.12,117.8 528.29,118.0 528.46,121.9 528.63,122.4 528.80,123.0 528.97,126.5 529.10,128.2 529.14,126.9 529.31,128.9 529.48,127.9 529.65,126.8 529.82,128.6 529.99,127.0 530.16,124.2 530.33,129.3 530.50,123.7 530.67,123.0 530.84,124.0 531.01,121.5 531.10,121.9 531.18,122.7 531.35,128.1 531.52,125.9 531.69,126.7 531.86,129.5 532.03,130.1 532.20,128.0 532.37,131.4 532.54,133.1 532.71,135.0 532.88,136.3 532.90,135.7 533.05,138.6 533.22,140.2 533.39,138.8 533.56,140.6 533.73,143.1 533.90,143.7 534.07,145.9 534.24,145.6 534.41,151.8 534.58,156.1 534.75,154.0 534.92,155.0 535.09,155.4 535.10,155.4 535.26,158.8 535.43,160.3 535.60,161.2 535.77,163.3 535.94,162.6 536.11,167.3 536.28,167.2 536.45,171.1 536.62,172.9 536.79,175.8 536.90,175.6 536.96,177.9 537.13,178.8 537.30,183.1 537.47,184.8 537.64,187.9 537.81,190.6 537.98,195.0 538.15,193.3 538.30,198.0 538.32,196.6 538.49,196.1 538.66,188.9 538.83,186.1 539.00,182.4 539.17,186.9 539.34,182.6 539.40,183.1 539.51,181.4 539.68,177.2 539.85,176.9 540.02,178.6 540.19,177.1 540.36,178.5 540.53,175.3 540.70,174.1 540.87,172.1 541.04,171.8 541.20,170.5 541.21,170.9 541.38,170.3 541.55,167.3 541.72,164.4 541.89,167.3 542.06,162.0 542.23,159.1 542.40,159.0 542.57,157.5 542.74,161.2 542.91,153.8 543.08,154.7 543.20,154.2 543.25,153.2 543.42,151.0 543.59,151.3 543.76,153.8 543.93,148.8 544.10,143.9 544.27,147.1 544.44,149.4 544.61,145.5 544.78,139.2 544.95,142.8 545.12,140.9 545.20,140.3 545.29,142.1 545.46,143.6 545.63,144.9 545.80,151.1 545.97,155.6 546.14,150.0 546.31,151.4 546.48,159.6 546.65,159.8 546.82,159.9 546.99,163.8 547.00,164.2 547.16,163.9 547.33,163.2 547.50,163.2 547.67,162.8 547.84,164.7 548.01,162.9 548.18,163.5 548.35,164.2 548.52,167.0 548.69,165.8 548.70,165.5 548.86,165.2 549.03,164.3 549.20,164.7 549.37,163.1 549.54,164.8 549.71,163.9 549.88,159.3 550.05,155.4 550.22,155.8 550.39,154.3 550.56,151.6 550.73,148.5 550.80,149.1 550.90,145.7 551.07,144.2 551.24,142.3 551.41,134.4 551.58,134.1 551.75,129.0 551.80,128.2 551.92,127.1 552.09,123.0 552.26,119.6 552.43,113.0 552.60,111.1 552.77,107.6 552.94,109.0 553.11,107.9 553.28,107.7 553.45,104.9 553.60,101.7 553.62,101.7 553.79,100.7 553.96,101.2 554.13,100.9 554.30,97.6 554.47,97.8 554.64,97.7 554.81,96.5 554.98,98.6 555.15,101.2 555.32,97.2 555.49,95.0 555.66,90.2 555.83,91.9 556.00,92.2 556.10,92.9 556.17,92.4 556.34,95.3 556.51,95.2 556.68,96.7 556.85,96.9 557.02,102.0 557.19,100.8 557.36,104.2 557.40,105.5 557.53,109.3 557.70,113.0 557.87,114.7 558.04,115.0 558.20,120.0 558.21,120.3 558.38,122.3 558.55,128.4 558.72,135.0 558.80,135.0 558.89,135.2 559.06,135.8 559.23,135.6 559.40,143.5 559.57,147.4 559.74,149.8 559.80,149.5 559.91,145.6 560.08,144.0 560.25,142.5 560.42,138.6 560.59,138.0 560.60,138.0 560.76,137.6 560.93,133.3 561.10,127.9 561.27,129.8 561.40,131.5 561.44,131.3 561.61,131.9 561.78,132.2 561.95,136.7 562.12,137.7 562.29,139.3 562.40,140.0 562.46,138.5 562.63,138.3 562.80,135.5 562.97,133.2 563.14,134.3 563.31,137.2 563.40,136.0 563.48,139.7 563.65,141.4 563.82,142.4 563.99,141.9 564.16,146.0 564.20,148.0 564.33,150.6 564.50,153.5 564.67,155.3 564.84,154.8 564.90,154.5 565.01,152.2 565.18,149.6 565.35,145.4 565.50,140.0 565.52,140.1 565.69,134.9 565.86,131.1 566.03,126.1 566.20,125.0 566.20,125.0 566.37,121.9 566.54,126.3 566.71,122.6 566.88,117.9 567.05,117.7 567.22,120.0 567.39,117.0 567.56,116.2 567.70,114.0 567.73,114.1 567.90,120.8 568.07,120.8 568.24,118.9 568.41,118.8 568.58,121.0 568.60,121.0 568.75,124.2 568.92,125.2 569.09,122.3 569.26,126.3 569.40,127.5 569.43,126.9 569.60,122.4 569.77,120.9 569.94,119.3 570.11,119.8 570.28,117.1 570.40,119.0 570.45,118.2 570.62,114.2 570.79,112.4 570.96,110.6 571.13,112.7 571.20,111.8 571.30,109.5 571.47,106.1 571.64,105.9 571.81,108.4 571.98,105.9 572.15,106.0 572.32,103.2 572.49,108.0 572.66,107.2 572.83,106.4 573.00,101.1 573.17,99.9 573.20,100.5 573.34,100.0 573.51,98.8 573.68,99.0 573.85,95.2 574.02,97.7 574.19,96.8 574.36,97.1 574.53,94.2 574.70,95.1 574.87,92.8 575.04,93.6 575.10,92.8 575.21,94.0 575.38,93.2 575.55,92.3 575.72,83.3 575.89,86.5 576.06,84.8 576.23,84.2 576.40,82.5 576.57,79.3 576.74,79.4 576.80,80.2 576.91,80.9 577.08,77.6 577.25,73.9 577.42,76.6 577.59,71.6 577.76,75.4 577.93,71.4 578.10,66.8 578.27,66.9 578.40,64.6 578.44,65.1 578.61,72.7 578.78,74.8 578.95,81.8 579.12,82.8 579.20,84.0 579.29,82.2 579.46,81.9 579.63,81.5 579.70,76.0 579.80,83.6 579.97,87.6 580.14,91.2 580.30,97.0 580.31,96.4 580.48,96.6 580.65,93.4 580.82,98.8 580.90,101.6 580.99,102.9 581.16,98.6 581.33,90.0 581.50,84.0 581.50,84.0 581.67,84.3 581.84,83.9 582.00,92.0 582.01,92.2 582.18,85.2 582.35,81.2 582.52,78.8 582.60,75.4 582.69,79.5 582.86,81.9 583.03,86.1 583.20,93.0 583.20,93.0 583.37,89.4 583.54,84.6 583.71,86.2 583.80,84.0 583.88,86.6 584.05,90.1 584.22,94.9 584.39,100.3 584.56,100.4 584.60,99.1 584.73,95.7 584.90,89.7 585.07,87.8 585.20,84.0 585.24,87.5 585.41,93.9 585.58,95.8 585.75,95.8 585.80,95.0 585.92,94.1 586.09,89.8 586.26,83.6 586.40,82.5 586.43,82.4 586.60,87.9 586.77,88.8 586.94,97.1 587.00,98.0 587.11,99.7 587.28,97.1 587.45,99.2 587.62,104.4 587.70,104.1 587.79,101.1 587.96,94.9 588.13,85.4 588.30,86.0 588.30,86.0 588.47,86.6 588.64,92.2 588.81,93.9 588.90,97.0 588.98,94.6 589.15,90.3 589.32,94.1 589.49,85.2 589.66,84.1 589.70,83.0 589.83,82.8 590.00,83.0 590.17,91.1 590.30,95.0 590.34,94.4 590.51,94.5 590.68,89.8 590.85,85.4 590.90,86.0 591.02,85.9 591.19,89.0 591.36,96.4 591.40,98.0 591.53,92.3 591.70,94.1 591.87,91.1 592.00,85.0 592.04,85.2 592.21,87.0 592.38,88.9 592.55,91.9 592.70,96.0 592.72,95.4 592.89,92.8 593.06,90.7 593.23,86.0 593.40,85.6 593.50,82.0 593.57,79.7 593.74,83.7 593.91,90.8 594.00,95.0 594.08,96.1 594.25,98.0 594.42,99.3 594.59,104.2 594.70,105.4 594.76,105.4 594.93,106.1 595.10,109.9 595.27,110.5 595.44,108.9 595.61,114.7 595.78,115.3 595.95,119.2 596.12,121.9 596.29,125.3 596.46,126.3 596.50,125.5 596.63,127.2 596.80,126.8 596.97,134.4 597.14,136.6 597.31,140.9 597.48,140.1 597.65,139.5 597.70,141.9 597.82,140.1 597.99,136.7 598.16,133.1 598.33,131.0 598.50,127.9 598.67,119.7 598.84,119.6 599.00,115.5 599.01,115.1 599.18,115.5 599.35,114.5 599.52,110.1 599.69,102.8 599.86,103.1 600.03,103.0 600.20,100.4 600.37,96.5 600.50,96.6 600.54,95.5 600.71,98.0 600.88,102.7 601.05,107.1 601.22,106.1 601.39,109.1 601.56,112.2 601.73,113.0 601.80,114.2 601.90,117.9 602.07,119.2 602.24,121.8 602.41,120.6 602.58,121.8 602.75,119.6 602.92,123.4 603.00,125.2 603.09,128.2 603.26,130.6 603.43,131.3 603.60,130.5 603.77,128.9 603.94,129.4 604.11,132.1 604.28,130.4 604.45,134.0 604.62,132.1 604.79,131.0 604.96,133.7 605.00,135.3 605.13,133.0 605.30,136.7 605.47,137.5 605.64,139.3 605.81,143.0 605.98,145.8 606.15,143.2 606.32,146.9 606.49,146.8 606.66,146.4 606.83,147.5 607.00,146.2 607.10,147.9 607.17,147.3 607.34,149.0 607.51,148.6 607.68,149.0 607.85,152.2 608.02,155.1 608.19,155.1 608.36,156.2 608.53,153.3 608.70,152.6 608.80,152.9 608.87,153.4 609.04,153.9 609.21,159.6 609.38,159.2 609.55,157.7 609.72,161.2 609.89,165.9 610.06,164.8 610.10,164.3"/>
<polyline stroke-width="3.20" points="609.89,165.9 610.06,164.8 610.10,164.3 610.23,163.8 610.40,161.6 610.57,159.3 610.74,158.4 610.91,161.1 611.08,156.2 611.25,158.3 611.42,153.8 611.59,152.4 611.76,152.7 611.93,151.5 612.10,149.2 612.10,149.2 612.27,148.2 612.44,146.1 612.61,150.4 612.78,147.7 612.95,146.7 613.12,143.3 613.29,142.6 613.46,140.7 613.63,142.9 613.80,141.8 613.90,141.6 613.97,140.8 614.14,139.1 614.31,140.3 614.48,136.8 614.65,132.8 614.82,134.3 614.99,131.8 615.16,131.3 615.33,132.5 615.50,130.4 615.60,130.3 615.67,130.7 615.84,134.5 616.01,137.7 616.18,137.1 616.35,137.9 616.52,138.1 616.69,140.9 616.86,144.4 617.03,144.0 617.10,145.4 617.20,144.0 617.37,142.2 617.54,139.3 617.71,143.8 617.88,142.3 618.05,141.5 618.22,138.9 618.39,140.4 618.56,135.2 618.73,136.0 618.90,138.3 619.07,135.7 619.10,135.3 619.24,137.0 619.41,136.7 619.58,138.0 619.75,140.9 619.92,141.6 620.09,142.8 620.26,142.6 620.43,144.2 620.60,145.0 620.77,147.3 620.90,146.6 620.94,146.7 621.11,143.7 621.28,145.0 621.45,146.0 621.62,143.5 621.79,140.0 621.96,139.4 622.13,142.8 622.30,140.6 622.47,140.5 622.64,141.3 622.81,142.9 622.98,141.5 623.15,140.5 623.20,140.3 623.32,142.7 623.49,145.3 623.66,145.5 623.83,143.7 624.00,144.6 624.17,148.3 624.34,148.7 624.51,151.9 624.68,153.0 624.70,152.9 624.85,155.0 625.02,156.7 625.19,155.9 625.36,156.9 625.53,162.9 625.70,160.0 625.87,160.6 626.04,164.0 626.21,164.4 626.38,165.1 626.40,165.5 626.55,166.7 626.72,170.3 626.89,174.1 627.06,174.4 627.23,177.1 627.40,175.8 627.57,178.0 627.70,179.4 627.74,179.0 627.91,178.6 628.08,178.6 628.25,174.7 628.42,175.9 628.59,172.7 628.76,169.4 628.93,168.8 629.10,165.8 629.27,166.2 629.44,165.9 629.50,165.5 629.61,166.4 629.78,166.7 629.95,167.7 630.12,165.9 630.29,168.2 630.46,168.2 630.63,169.5 630.80,171.3 630.97,172.9 631.00,173.1 631.14,171.2 631.31,172.9 631.48,176.1 631.65,178.3 631.82,180.9 631.99,182.9 632.16,182.5 632.20,181.9 632.33,182.1 632.50,182.2 632.67,183.6 632.84,186.3 633.01,188.3 633.18,189.6 633.35,190.7 633.50,192.0 633.52,192.0 633.69,191.2 633.86,190.1 634.03,187.5 634.20,184.5 634.37,185.1 634.54,184.7 634.71,182.6 634.88,180.7 635.05,182.7 635.22,178.9 635.30,178.1 635.39,178.6 635.56,177.5 635.73,178.9 635.90,183.1 636.07,183.9 636.24,184.0 636.41,184.1 636.58,183.5 636.75,183.9 636.80,183.2 636.92,181.9 637.09,180.5 637.26,180.5 637.43,178.8 637.60,177.8 637.77,171.6 637.94,173.4 638.11,174.2 638.28,170.6 638.30,169.3 638.45,167.5 638.62,166.5 638.79,163.2 638.96,163.7 639.13,160.9 639.30,161.4 639.47,161.2 639.64,155.6 639.80,155.5 639.81,155.2 639.98,151.9 640.15,150.6 640.32,150.1 640.49,151.8 640.66,147.4 640.83,149.1 641.00,149.5 641.10,146.6 641.17,148.1 641.34,149.1 641.51,148.0 641.68,150.7 641.85,152.5 642.02,154.5 642.19,158.5 642.36,158.7 642.53,158.3 642.70,159.4 642.80,158.0 642.87,156.7 643.04,155.2 643.21,153.6 643.38,154.5 643.55,152.8 643.72,155.2 643.89,155.3 644.06,153.3 644.23,149.8 644.40,148.9 644.57,147.4 644.60,146.6 644.74,147.6 644.91,149.6 645.08,150.5 645.25,153.9 645.42,155.5 645.59,152.9 645.76,153.9 645.93,153.4 646.10,155.8 646.27,156.2 646.30,156.7 646.44,157.9 646.61,159.8 646.78,159.5 646.95,157.1 647.12,162.1 647.29,161.3 647.46,163.9 647.63,163.6 647.80,163.8 647.90,163.0 647.97,163.6 648.14,164.0 648.31,159.6 648.48,160.1 648.65,158.0 648.82,156.5 648.99,155.4 649.16,154.9 649.33,156.2 649.50,150.6 649.67,150.3 649.84,149.0 649.90,149.2 650.01,148.4 650.18,147.9 650.35,145.9 650.52,146.1 650.69,146.3 650.86,143.2 651.03,141.9 651.20,138.4 651.37,138.9 651.54,138.7 651.60,137.8 651.71,139.2 651.88,136.9 652.05,135.6 652.22,135.9 652.39,137.7 652.56,140.2 652.73,141.6 652.90,142.7 653.07,144.8 653.24,144.5 653.40,145.4 653.41,144.8 653.58,145.6 653.75,140.9 653.92,140.7 654.09,143.1 654.26,142.2 654.43,138.9 654.60,138.2 654.77,138.9 654.94,139.1 655.11,135.5 655.28,135.3 655.40,134.0 655.45,134.5 655.62,135.1 655.79,132.6 655.96,128.6 656.13,129.1 656.30,131.5 656.47,130.1 656.64,128.0 656.81,129.5 656.98,124.7 657.15,124.3 657.32,121.9 657.40,121.4 657.49,122.1 657.66,125.1 657.83,123.9 658.00,124.1 658.17,122.8 658.34,126.5 658.51,127.2 658.68,129.6 658.85,129.1 659.02,130.7 659.19,132.9 659.20,132.8 659.36,134.7 659.53,136.4 659.70,136.4 659.87,134.8 660.04,139.1 660.21,140.4 660.38,143.1 660.55,139.9 660.72,140.2 660.89,142.4 661.00,145.4 661.06,145.7 661.23,147.7 661.40,148.7 661.57,150.1 661.74,152.6 661.91,152.5 662.08,154.4 662.25,155.5 662.42,152.7 662.59,155.3 662.76,159.5 662.93,159.9 663.00,160.5 663.10,159.4 663.27,157.9 663.44,159.1 663.61,157.2 663.78,154.3 663.95,150.4 664.12,149.8 664.29,148.7 664.46,148.0 664.63,150.0 664.80,150.6 664.97,148.6 665.00,149.2 665.14,149.9 665.31,149.0 665.48,150.9 665.65,148.0 665.82,147.3 665.99,146.8 666.16,147.5 666.33,151.5 666.50,150.2 666.67,150.8 666.80,152.9 666.84,152.2 667.01,150.8 667.18,151.4 667.35,148.9 667.52,145.9 667.69,145.3 667.86,145.6 668.03,143.6 668.20,144.2 668.37,145.3 668.50,142.9 668.54,143.2 668.71,145.8 668.88,145.4 669.05,145.0 669.22,144.7 669.39,147.8 669.56,150.2 669.73,150.6 669.90,151.8 670.07,154.7 670.24,155.7 670.41,154.4 670.50,155.5 670.58,155.0 670.75,154.9 670.92,153.3 671.09,151.1 671.26,149.8 671.43,146.2 671.60,147.2 671.77,146.3 671.94,147.2 672.11,145.2 672.28,145.1 672.30,145.4 672.45,142.4 672.62,142.8 672.79,140.9 672.96,141.0 673.13,137.5 673.30,137.5 673.47,133.7 673.64,133.6 673.81,133.1 673.98,133.5 674.10,132.8 674.15,133.3 674.32,136.7 674.49,138.6 674.66,141.2 674.83,143.8 675.00,144.6 675.10,145.4 675.17,146.3 675.34,147.4 675.51,150.0 675.68,153.6 675.85,155.8 676.02,155.5 676.19,155.6 676.30,158.0 676.36,157.2 676.53,157.2 676.70,154.9 676.87,153.1 677.04,153.3 677.21,150.5 677.38,149.1 677.55,150.9 677.72,150.4 677.89,147.7 678.06,145.0 678.10,144.1 678.23,144.0 678.40,143.5 678.57,143.3 678.74,141.7 678.91,141.6 679.08,141.0 679.25,141.4 679.42,143.3 679.59,142.0 679.76,138.3 679.93,137.8 680.10,139.1 680.10,139.1 680.27,137.9 680.44,138.2 680.61,136.4 680.78,136.8 680.95,135.0 681.12,133.4 681.29,134.5 681.30,135.3 681.46,136.2 681.63,134.9 681.80,138.1 681.97,140.6 682.14,139.5 682.31,139.5 682.48,138.7 682.65,139.8 682.82,141.8 682.99,142.0 683.16,143.3 683.30,142.9 683.33,143.2 683.50,142.4 683.67,140.6 683.84,139.7 684.01,135.9 684.18,136.2 684.35,135.3 684.52,132.4 684.69,135.0 684.86,131.1 685.00,130.3 685.03,130.1 685.20,127.5 685.37,126.7 685.54,124.9 685.71,124.6 685.88,125.7 686.05,127.0 686.22,128.9 686.39,129.0 686.56,129.3 686.73,128.1 686.90,125.9 687.07,125.8 687.10,125.2 687.24,124.1 687.41,125.4 687.58,125.2 687.75,123.9 687.92,123.9 688.09,123.8 688.26,119.2 688.43,118.9 688.60,116.5 688.77,117.3 688.94,116.1 689.11,118.3 689.28,117.5 689.45,115.4 689.60,115.2 689.62,114.8 689.79,116.2 689.96,118.9 690.13,120.8 690.30,118.5 690.47,121.1 690.64,124.8 690.81,127.1 690.98,130.1 691.15,129.3 691.30,131.5 691.32,131.2 691.49,130.5 691.66,130.4 691.83,130.6 692.00,128.1 692.17,127.9 692.34,124.9 692.51,122.8 692.68,124.9 692.85,124.5 693.02,122.9 693.10,124.0 693.19,123.0 693.36,124.5 693.53,124.9 693.70,124.7 693.87,119.6 694.04,119.7 694.21,120.6 694.38,120.6 694.55,120.3 694.72,118.9 694.89,120.3 695.06,119.0 695.10,117.7 695.23,116.9 695.40,119.4 695.57,117.2 695.74,118.7 695.91,120.7 696.08,116.3 696.25,116.2 696.42,114.8 696.59,115.4 696.76,115.2 696.93,116.4 697.10,113.9 697.10,113.9 697.27,116.3 697.44,116.1 697.61,116.0 697.78,121.0 697.95,118.3 698.12,118.0 698.29,119.3 698.46,118.6 698.63,118.0 698.80,121.9 698.90,122.7 698.97,122.0 699.14,121.7 699.31,120.7 699.48,119.9 699.65,121.7 699.82,126.9 699.99,126.4 700.16,126.2 700.33,122.3 700.50,123.0 700.67,122.1 700.84,123.9 700.90,124.0 701.01,123.9 701.18,123.9 701.35,123.1 701.52,120.9 701.69,123.7 701.86,121.5 702.03,121.0 702.20,122.5 702.37,122.9 702.54,124.5 702.70,125.2 702.71,125.3 702.88,125.0 703.05,124.1 703.22,124.7 703.39,120.0 703.56,121.2 703.73,119.1 703.90,117.2 704.07,118.3 704.24,117.9 704.41,118.9 704.58,119.1 704.70,117.7 704.75,116.8 704.92,118.3 705.09,118.1 705.26,118.6 705.43,116.3 705.60,111.7 705.77,109.6 705.94,111.6 706.11,112.5 706.28,109.7 706.45,108.8 706.62,108.6 706.70,108.3 706.79,107.4 706.96,110.3 707.13,113.8 707.30,112.1 707.47,114.9 707.64,112.0 707.81,110.5 707.98,108.6 708.15,112.2 708.20,112.6 708.32,115.0 708.49,115.4 708.66,115.5 708.83,112.0 709.00,116.6 709.17,115.8 709.34,116.1 709.51,114.1 709.68,117.5 709.70,117.7 709.85,116.9 710.02,116.4 710.19,116.5 710.36,117.3 710.53,115.9 710.70,117.8 710.87,114.8 711.04,112.5 711.21,111.5 711.38,109.4 711.50,111.4 711.55,111.2 711.72,111.1 711.89,109.4 712.06,110.2 712.23,106.1 712.40,107.1 712.57,109.0 712.74,110.0 712.91,108.0 713.08,109.1 713.20,108.3 713.25,109.0 713.42,110.8 713.59,108.8 713.76,107.1 713.93,111.2 714.10,112.9 714.27,114.5 714.44,114.6 714.61,115.8 714.78,117.8 714.80,117.7 714.95,118.6 715.12,116.2 715.29,119.3 715.46,120.2 715.63,120.9 715.80,120.4 715.97,123.8 716.14,121.7 716.31,121.2 716.48,119.6 716.50,120.2 716.65,119.2 716.82,120.0 716.99,121.4 717.16,120.5 717.33,124.8 717.50,122.1 717.67,122.1 717.84,123.6 718.01,122.5 718.18,124.7 718.30,125.2 718.35,125.0 718.52,126.8 718.69,125.6 718.86,125.0 719.03,122.2 719.20,119.1 719.37,119.3 719.54,119.9 719.71,119.8 719.88,121.5 720.05,117.9"/>
<polyline stroke-width="3.50" points="719.88,121.5 720.05,117.9 720.22,118.6 720.30,120.2 720.39,120.3 720.56,120.0 720.73,119.9 720.90,118.7 721.07,122.7 721.24,122.1 721.41,123.6 721.58,119.5 721.75,124.9 721.92,126.0 722.09,126.8 722.26,127.4 722.30,126.5 722.43,127.0 722.60,128.8 722.77,129.6 722.94,128.9 723.11,129.4 723.28,128.7 723.45,131.4 723.62,133.4 723.79,132.6 723.96,134.9 724.10,132.8 724.13,132.5 724.30,135.0 724.47,133.7 724.64,130.3 724.81,135.0 724.98,135.7 725.15,132.1 725.32,135.0 725.49,132.6 725.66,131.2 725.83,133.2 726.00,134.1 726.10,135.3 726.17,134.6 726.34,134.0 726.51,136.0 726.68,137.5 726.85,140.6 727.02,139.8 727.19,138.0 727.36,137.8 727.53,140.8 727.70,145.5 727.87,146.0 727.90,145.4 728.04,147.7 728.21,146.1 728.38,150.2 728.55,149.8 728.72,152.8 728.89,154.3 729.06,154.0 729.10,154.2 729.23,153.1 729.40,153.6 729.57,156.8 729.74,161.4 729.91,161.5 730.08,159.1 730.25,155.9 730.40,156.7 730.42,156.2 730.59,155.8 730.76,158.3 730.93,157.0 731.10,163.1 731.27,165.8 731.44,163.8 731.61,163.6 731.78,162.9 731.95,164.0 732.10,168.0 732.12,168.0 732.29,167.7 732.46,167.1 732.63,164.6 732.80,165.0 732.97,160.5 733.14,161.4 733.31,164.4 733.48,164.4 733.65,161.1 733.70,160.5 733.82,162.7 733.99,166.4 734.16,162.5 734.33,162.8 734.50,164.9 734.67,168.8 734.84,166.5 735.01,169.1 735.18,169.1 735.35,172.1 735.40,170.6 735.52,171.8 735.69,171.6 735.86,174.6 736.03,175.8 736.20,172.6 736.37,174.4 736.54,172.5 736.71,173.7 736.88,175.7 736.90,176.9 737.05,174.2 737.22,172.9 737.39,175.1 737.56,177.1 737.73,175.6 737.90,172.7 738.07,175.6 738.24,170.9 738.41,170.4 738.58,173.5 738.70,174.3 738.75,175.6 738.92,176.3 739.09,174.4 739.26,175.5 739.43,179.2 739.60,178.7 739.77,179.5 739.94,180.8 740.00,183.2 740.11,181.0 740.28,179.8 740.45,175.2 740.50,176.0 740.62,175.3 740.79,178.2 740.96,177.3 741.13,179.6 741.30,177.1 741.47,178.7 741.64,184.1 741.81,188.2 741.98,187.8 742.10,190.1 742.15,190.7 742.32,191.6 742.49,192.2 742.66,195.7 742.83,197.6 743.00,201.3 743.17,202.9 743.34,202.2 743.40,202.7 743.51,203.6 743.68,202.7 743.85,203.4 744.02,209.3 744.19,207.4 744.36,213.1 744.53,214.9 744.60,215.3 744.70,217.7 744.87,221.3 745.04,226.3 745.21,226.5 745.38,228.5 745.55,231.1 745.70,234.2 745.72,235.0 745.89,232.6 746.06,230.6 746.23,228.0 746.40,227.7 746.57,227.4 746.74,231.1 746.91,223.6 747.08,224.5 747.20,222.8 747.25,222.7 747.42,223.0 747.59,222.8 747.76,224.1 747.93,227.3 748.10,223.4 748.27,228.3 748.44,227.3 748.61,230.5 748.78,230.0 748.90,229.1 748.95,230.8 749.12,234.3 749.29,234.8 749.46,233.6 749.63,237.2 749.80,239.7 749.97,243.9 750.14,240.3 750.20,241.7 750.31,244.6 750.48,244.9 750.65,248.1 750.82,256.8 750.99,260.8 751.16,259.2 751.33,263.5 751.40,263.1 751.50,264.1 751.67,262.8 751.84,261.0 752.01,256.9 752.18,254.7 752.35,255.8 752.52,254.3 752.69,256.4 752.86,252.0 753.03,246.5 753.20,248.0 753.20,248.0 753.37,249.9 753.54,251.6 753.71,251.4 753.88,257.3 754.05,256.2 754.22,259.6 754.39,260.0 754.56,260.0 754.70,263.1 754.73,261.4 754.90,259.4 755.07,261.8 755.24,261.5 755.41,263.9 755.58,263.2 755.70,263.1 755.75,263.9 755.92,260.6 756.09,256.9 756.26,251.4 756.43,247.8 756.60,247.9 756.77,246.3 756.94,242.7 757.11,238.7 757.20,237.9 757.28,235.3 757.45,233.6 757.62,232.6 757.79,230.3 757.96,230.9 758.13,229.4 758.20,230.0 758.30,231.0 758.47,231.2 758.64,231.9 758.81,229.2 758.98,229.3 759.15,228.1 759.32,226.7 759.40,224.0 759.49,227.1 759.66,229.0 759.83,229.8 760.00,225.6 760.17,230.4 760.20,233.0 760.34,232.4 760.51,230.8 760.68,233.4 760.85,235.0 761.02,231.5 761.19,233.0 761.36,231.7 761.40,229.5 761.53,230.2 761.70,234.8 761.87,234.1 762.04,233.9 762.21,235.4 762.30,236.0 762.38,236.2 762.55,235.8 762.72,235.9 762.89,233.6 763.06,228.3 763.23,226.4 763.40,225.0 763.40,225.0 763.57,232.5 763.74,233.4 763.91,233.5 764.08,238.7 764.25,240.6 764.30,240.0 764.42,239.1 764.59,238.4 764.76,238.4 764.93,237.2 765.10,233.4 765.20,232.0 765.27,234.9 765.44,239.7 765.61,234.6 765.78,239.2 765.95,244.9 766.00,248.0 766.12,245.8 766.29,246.0 766.46,244.5 766.63,240.8 766.80,238.0 766.80,238.0 766.97,241.2 767.14,244.2 767.31,249.7 767.48,250.3 767.60,250.0 767.65,249.5 767.82,248.3 767.99,247.9 768.16,250.3 768.33,249.7 768.50,247.6 768.60,247.0 768.67,247.6 768.84,246.5 769.01,245.5 769.18,244.2 769.35,241.6 769.52,239.9 769.60,240.0 769.69,237.1 769.86,232.2 770.03,234.5 770.20,230.9 770.37,228.4 770.40,228.0 770.54,226.7 770.71,225.3 770.88,224.0 771.05,220.8 771.22,221.7 771.30,220.3 771.39,223.2 771.56,221.6 771.73,224.0 771.90,231.3 772.00,233.0 772.07,231.3 772.24,230.3 772.41,226.0 772.58,225.6 772.75,221.8 772.80,224.0 772.92,223.3 773.09,228.1 773.26,232.9 773.43,233.2 773.50,235.0 773.60,233.8 773.77,227.0 773.94,223.0 774.11,226.2 774.28,223.9 774.40,222.5 774.45,222.1 774.62,222.8 774.79,230.3 774.96,232.3 775.13,237.3 775.20,236.0 775.30,231.7 775.47,232.3 775.64,229.5 775.81,227.5 775.98,227.2 776.00,226.0 776.15,230.4 776.32,231.5 776.49,231.2 776.66,234.8 776.80,236.0 776.83,236.4 777.00,235.9 777.17,232.5 777.34,230.5 777.51,227.8 777.68,223.5 777.70,223.0 777.85,225.4 778.02,228.7 778.19,227.8 778.36,230.9 778.50,233.0 778.53,232.0 778.70,229.1 778.87,226.7 779.04,227.1 779.10,226.0 779.21,228.5 779.38,235.3 779.55,237.6 779.72,236.9 779.80,240.0 779.89,242.1 780.06,243.1 780.23,247.3 780.40,249.3 780.57,250.5 780.74,250.5 780.90,251.8 780.91,251.7 781.08,252.5 781.25,254.4 781.42,255.8 781.59,255.4 781.76,256.4 781.93,258.0 782.10,254.7 782.27,255.6 782.44,256.6 782.61,258.9 782.78,260.5 782.90,261.9 782.95,260.5 783.12,260.0 783.29,259.0 783.46,253.4 783.63,253.5 783.80,250.2 783.97,254.1 784.14,250.5 784.31,248.4 784.40,248.0 784.48,247.7 784.65,247.4 784.82,250.5 784.99,249.4 785.16,250.1 785.33,250.8 785.50,246.4 785.67,249.0 785.84,247.4 785.90,245.9 786.01,246.4 786.18,248.3 786.35,249.2 786.52,248.1 786.69,254.0 786.86,253.6 787.03,251.7 787.20,252.1 787.37,254.2 787.54,255.8 787.71,255.5 787.88,256.3 788.05,255.9 788.10,254.4 788.22,253.5 788.39,251.7 788.56,252.1 788.73,255.2 788.90,255.0 789.07,250.7 789.24,250.0 789.41,252.3 789.58,249.8 789.75,249.3 789.92,249.4 790.09,248.0 790.10,248.5 790.26,247.4 790.43,246.6 790.60,242.4 790.77,239.7 790.94,237.8 791.11,237.9 791.28,236.8 791.45,235.5 791.62,237.5 791.79,236.1 791.96,230.9 792.13,228.2 792.20,227.9 792.30,229.8 792.47,234.8 792.64,239.2 792.81,237.3 792.98,238.2 793.15,240.3 793.20,240.8 793.32,239.7 793.49,240.3 793.66,243.6 793.83,243.1 794.00,243.7 794.17,243.8 794.34,242.4 794.51,248.1 794.68,244.4 794.85,247.0 794.90,248.5 795.02,245.8 795.19,246.1 795.36,247.5 795.53,243.2 795.70,242.7 795.87,238.8 796.04,239.9 796.21,238.8 796.38,237.7 796.55,237.2 796.60,235.6 796.72,237.1 796.89,236.7 797.06,232.5 797.23,232.5 797.40,232.6 797.57,227.8 797.74,231.4 797.91,229.8 798.08,229.1 798.25,225.8 798.42,225.7 798.59,225.3 798.70,224.5 798.76,224.6 798.93,221.9 799.10,226.0 799.27,223.8 799.44,220.4 799.61,221.2 799.78,222.3 799.95,226.3 800.12,225.2 800.29,227.5 800.46,226.7 800.63,230.1 800.70,228.8 800.80,230.9 800.97,227.5 801.14,227.4 801.31,223.4 801.48,224.1 801.65,224.1 801.82,218.4 801.99,216.3 802.16,215.3 802.33,215.0 802.40,216.8 802.50,215.3 802.67,214.5 802.84,217.9 803.01,221.7 803.18,220.0 803.35,221.7 803.52,224.6 803.69,226.4 803.80,227.9 803.86,228.4 804.03,230.3 804.20,231.6 804.37,230.8 804.54,235.5 804.71,237.1 804.88,234.3 805.05,233.4 805.22,236.2 805.39,233.6 805.56,235.0 805.73,235.3 805.90,235.6 805.90,235.6 806.07,232.1 806.24,231.0 806.41,227.3 806.58,234.0 806.75,235.5 806.92,235.1 807.09,232.1 807.26,231.3 807.43,230.1 807.60,226.2 807.60,226.2 807.77,227.6 807.94,229.7 808.11,229.5 808.28,228.3 808.45,228.5 808.62,232.9 808.79,237.0 808.96,234.8 809.13,239.6 809.30,239.1 809.30,239.1 809.47,239.2 809.64,239.4 809.81,241.6 809.98,240.3 810.15,238.1 810.32,240.3 810.49,236.0 810.66,239.0 810.83,243.1 811.00,243.2 811.17,244.4 811.34,244.4 811.51,244.8 811.68,244.0 811.85,242.6 812.00,243.3 812.02,243.1 812.19,244.3 812.36,246.1 812.53,244.9 812.70,241.3 812.87,239.2 813.04,239.1 813.21,242.5 813.38,241.4 813.55,239.7 813.72,237.4 813.89,238.8 814.06,237.9 814.10,237.4 814.23,237.0 814.40,239.0 814.57,236.6 814.74,238.8 814.91,238.8 815.08,235.5 815.25,235.3 815.42,232.5 815.59,229.3 815.76,228.6 815.93,227.2 816.10,227.9 816.10,227.9 816.27,229.2 816.44,231.0 816.61,224.7 816.78,228.2 816.95,225.7 817.12,229.2 817.29,228.9 817.46,231.3 817.63,235.6 817.80,231.6 817.97,233.8 818.14,234.7 818.30,235.6 818.31,235.5 818.48,235.1 818.65,234.0 818.82,232.7 818.99,239.8 819.16,236.2 819.33,230.7 819.50,229.7 819.67,230.4 819.84,230.7 820.01,231.3 820.18,229.8 820.35,231.7 820.52,231.1 820.60,231.4 820.69,229.9 820.86,230.0 821.03,233.0 821.20,234.2 821.37,233.2 821.54,233.7 821.71,234.6 821.88,238.9 822.05,235.7 822.22,236.1 822.30,235.6 822.39,235.8 822.56,237.3 822.73,238.7 822.90,238.7 823.07,241.5 823.24,244.6 823.41,246.8 823.58,245.4 823.75,246.0 823.92,248.8 824.00,246.8 824.09,246.7 824.26,247.3 824.43,245.8 824.60,245.7 824.77,243.9 824.94,243.5 825.11,242.7 825.20,239.9 825.28,241.2 825.45,242.7 825.62,243.3 825.79,245.2 825.96,244.4 826.13,249.1 826.30,254.4 826.47,257.2 826.64,258.0 826.81,255.7 826.90,256.2 826.98,256.8 827.15,257.6 827.32,262.7 827.49,259.2 827.66,262.2 827.83,262.8 828.00,262.7 828.10,263.0 828.17,262.6 828.34,260.5 828.51,262.1 828.68,262.8 828.85,256.8 829.02,255.7 829.10,256.2 829.19,255.4 829.36,255.4 829.53,258.3 829.70,260.2 829.87,258.6 830.04,261.1 830.21,265.7 830.38,265.0 830.55,266.6 830.72,271.6 830.80,271.5 830.89,270.3 831.06,267.4 831.23,268.6 831.40,265.6 831.57,265.8 831.74,265.1 831.91,266.7 832.08,260.7 832.25,260.7 832.42,261.6 832.50,263.8 832.59,263.1 832.76,259.8 832.93,261.6 833.10,263.1 833.27,261.5 833.44,260.2 833.61,261.1 833.78,262.7 833.95,260.8 834.12,259.9 834.20,258.7 834.29,258.3 834.46,256.4 834.63,257.0 834.80,256.1 834.97,255.5 835.14,257.6 835.31,257.5 835.48,258.0 835.65,252.6 835.82,254.3 835.99,252.7 836.16,251.8 836.30,252.7 836.33,253.2 836.50,255.2 836.67,254.0 836.84,252.5 837.01,254.5 837.18,254.9 837.35,260.4 837.52,256.5 837.69,255.0 837.86,258.0 838.00,260.4 838.03,260.3 838.20,261.9 838.37,266.0 838.54,263.6 838.71,261.9 838.88,258.4 839.05,261.5 839.22,264.6 839.39,263.9 839.56,265.9 839.70,264.7 839.73,265.7 839.90,265.8 840.07,262.4 840.24,260.7 840.41,257.4 840.58,255.2 840.75,258.0 840.92,260.5 841.09,263.0 841.26,259.7 841.40,257.9 841.43,257.0 841.60,257.4 841.77,256.7 841.94,253.6 842.11,254.4 842.28,253.9 842.45,247.9 842.62,249.7 842.79,248.6 842.80,248.5"/>
</g>
</svg></body></html>
